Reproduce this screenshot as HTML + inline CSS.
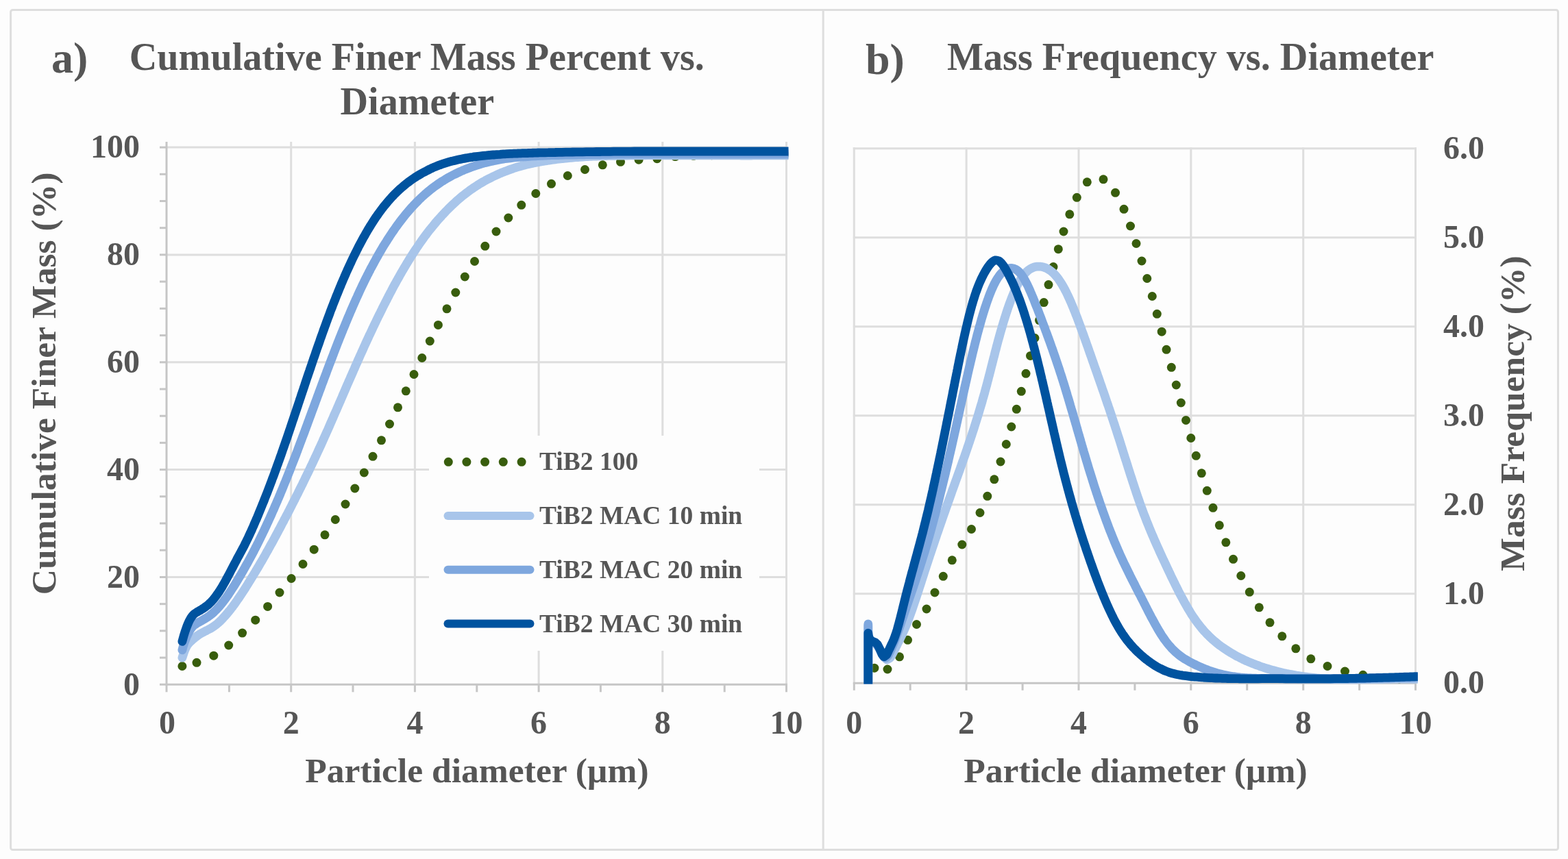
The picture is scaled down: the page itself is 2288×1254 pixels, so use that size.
<!DOCTYPE html>
<html lang="en">
<head>
<meta charset="utf-8">
<title>Particle size distributions of TiB2 powders</title>
<style>
html,body{margin:0;padding:0;background:#fdfdfd;}
body{width:2288px;height:1254px;overflow:hidden;}
svg{display:block;font-family:"Liberation Serif","Times New Roman",Times,serif;font-weight:bold;fill:#565656;}
.grid line{stroke:#dedede;stroke-width:3;}
.axis line{stroke:#c6c6c6;stroke-width:3;}
.frame{fill:none;stroke:#dedede;stroke-width:3;}
.curve{fill:none;stroke-width:12.8;stroke-linecap:round;stroke-linejoin:round;}
.dots circle{fill:#385d0a;}
.tick{font-size:48px;}
.atitle{font-size:51.6px;}
.title{font-size:56.2px;}
.tag{font-size:64px;}
.leg{font-size:37.5px;}
</style>
</head>
<body>
<svg xmlns="http://www.w3.org/2000/svg" width="2288" height="1254" viewBox="0 0 2288 1254" role="img" aria-label="Particle size distribution charts">
<defs>
<filter id="soft" x="-2%" y="-2%" width="104%" height="104%"><feGaussianBlur stdDeviation="0.6"/></filter>
<clipPath id="clipA"><rect x="236" y="200" width="914.5" height="806"/></clipPath>
<clipPath id="clipB"><rect x="1240" y="210" width="828.8" height="788.5"/></clipPath>
</defs>
<rect width="2288" height="1254" fill="#fdfdfd"/>
<g filter="url(#soft)">

<rect class="frame" x="15.6" y="14.4" width="2257.9" height="1226.2" rx="3"/>
<line x1="1201.2" y1="14.4" x2="1201.2" y2="1240.6" stroke="#dedede" stroke-width="3"/>
<g id="chart-a">
<g class="grid">
<line x1="424.7" y1="207" x2="424.7" y2="999.3"/>
<line x1="605.4" y1="207" x2="605.4" y2="999.3"/>
<line x1="786.1" y1="207" x2="786.1" y2="999.3"/>
<line x1="966.8" y1="207" x2="966.8" y2="999.3"/>
<line x1="1147.5" y1="207" x2="1147.5" y2="999.3"/>
<line x1="243" y1="842.5" x2="1149" y2="842.5"/>
<line x1="243" y1="685.6" x2="1149" y2="685.6"/>
<line x1="243" y1="528.8" x2="1149" y2="528.8"/>
<line x1="243" y1="371.9" x2="1149" y2="371.9"/>
<line x1="243" y1="215.1" x2="1149" y2="215.1"/>
</g>
<g class="axis">
<line x1="243" y1="207" x2="243" y2="1000.8"/>
<line x1="233" y1="999.3" x2="1149" y2="999.3"/>
<line x1="243" y1="999.3" x2="243" y2="1010.3"/>
<line x1="334.4" y1="999.3" x2="334.4" y2="1010.3"/>
<line x1="424.7" y1="999.3" x2="424.7" y2="1010.3"/>
<line x1="515" y1="999.3" x2="515" y2="1010.3"/>
<line x1="605.4" y1="999.3" x2="605.4" y2="1010.3"/>
<line x1="695.8" y1="999.3" x2="695.8" y2="1010.3"/>
<line x1="786.1" y1="999.3" x2="786.1" y2="1010.3"/>
<line x1="876.4" y1="999.3" x2="876.4" y2="1010.3"/>
<line x1="966.8" y1="999.3" x2="966.8" y2="1010.3"/>
<line x1="1057.2" y1="999.3" x2="1057.2" y2="1010.3"/>
<line x1="1147.5" y1="999.3" x2="1147.5" y2="1010.3"/>
<line x1="233" y1="960.1" x2="243" y2="960.1"/>
<line x1="233" y1="920.9" x2="243" y2="920.9"/>
<line x1="233" y1="881.7" x2="243" y2="881.7"/>
<line x1="233" y1="842.5" x2="243" y2="842.5"/>
<line x1="233" y1="803.2" x2="243" y2="803.2"/>
<line x1="233" y1="764" x2="243" y2="764"/>
<line x1="233" y1="724.8" x2="243" y2="724.8"/>
<line x1="233" y1="685.6" x2="243" y2="685.6"/>
<line x1="233" y1="646.4" x2="243" y2="646.4"/>
<line x1="233" y1="607.2" x2="243" y2="607.2"/>
<line x1="233" y1="568" x2="243" y2="568"/>
<line x1="233" y1="528.8" x2="243" y2="528.8"/>
<line x1="233" y1="489.6" x2="243" y2="489.6"/>
<line x1="233" y1="450.4" x2="243" y2="450.4"/>
<line x1="233" y1="411.1" x2="243" y2="411.1"/>
<line x1="233" y1="371.9" x2="243" y2="371.9"/>
<line x1="233" y1="332.7" x2="243" y2="332.7"/>
<line x1="233" y1="293.5" x2="243" y2="293.5"/>
<line x1="233" y1="254.3" x2="243" y2="254.3"/>
<line x1="233" y1="215.1" x2="243" y2="215.1"/>
</g>
<rect x="626" y="636" width="482" height="314" fill="#fdfdfd"/>
<g clip-path="url(#clipA)">
<g class="dots"><circle cx="265.9" cy="972.5" r="6.5"/><circle cx="287" cy="967.3" r="6.5"/><circle cx="311.8" cy="957.2" r="6.5"/><circle cx="333.7" cy="942" r="6.5"/><circle cx="353.6" cy="924.1" r="6.5"/><circle cx="372.7" cy="905.2" r="6.5"/><circle cx="390.6" cy="885.4" r="6.5"/><circle cx="408" cy="865" r="6.5"/><circle cx="425.1" cy="844.5" r="6.5"/><circle cx="442" cy="823.5" r="6.5"/><circle cx="458.2" cy="802.2" r="6.5"/><circle cx="474" cy="780.8" r="6.5"/><circle cx="489.3" cy="758.5" r="6.5"/><circle cx="504" cy="736" r="6.5"/><circle cx="517.8" cy="713" r="6.5"/><circle cx="531.3" cy="690" r="6.5"/><circle cx="544" cy="666.3" r="6.5"/><circle cx="556.5" cy="642.8" r="6.5"/><circle cx="568.5" cy="619" r="6.5"/><circle cx="580.5" cy="594.8" r="6.5"/><circle cx="592.3" cy="570.8" r="6.5"/><circle cx="604" cy="546.5" r="6.5"/><circle cx="615.8" cy="522.5" r="6.5"/><circle cx="627.3" cy="498" r="6.5"/><circle cx="639.4" cy="474.4" r="6.5"/><circle cx="652" cy="450.8" r="6.5"/><circle cx="664.8" cy="427" r="6.5"/><circle cx="678.3" cy="404" r="6.5"/><circle cx="692.5" cy="381.5" r="6.5"/><circle cx="707.8" cy="359.3" r="6.5"/><circle cx="724" cy="338" r="6.5"/><circle cx="741.8" cy="318" r="6.5"/><circle cx="760.8" cy="299.3" r="6.5"/><circle cx="781.8" cy="282.5" r="6.5"/><circle cx="804.5" cy="268.3" r="6.5"/><circle cx="828.3" cy="256.5" r="6.5"/><circle cx="853.5" cy="247.5" r="6.5"/><circle cx="879.3" cy="240.8" r="6.5"/><circle cx="905.5" cy="236.3" r="6.5"/><circle cx="932.1" cy="233.2" r="6.5"/><circle cx="958.8" cy="231.7" r="6.5"/><circle cx="985.3" cy="228.6" r="6.5"/><circle cx="1012" cy="227.3" r="6.5"/><circle cx="1038.6" cy="226.7" r="6.5"/><circle cx="1065.2" cy="226.3" r="6.5"/><circle cx="1091.8" cy="226" r="6.5"/><circle cx="1118.4" cy="225.8" r="6.5"/><circle cx="1145" cy="225.6" r="6.5"/></g>
<path class="curve" stroke="#a8c5ea" d="M265.9,960.2C266.2,959.4 266.9,957 267.5,955.4C268,953.8 268.5,952.2 269.1,950.7C269.7,949.1 270.3,947.5 271.1,946C271.8,944.5 272.6,943 273.5,941.7C274.5,940.3 275.6,939 276.7,937.8C277.9,936.6 279.1,935.4 280.4,934.3C281.6,933.2 282.9,932.1 284.2,931C285.5,930 286.8,928.9 288.2,928C289.6,927 291,926.1 292.4,925.2C293.8,924.4 295.3,923.6 296.8,922.8C298.3,922 299.8,921.3 301.3,920.5C302.8,919.7 304.3,919 305.8,918.2C307.2,917.4 308.7,916.6 310.1,915.7C311.5,914.8 312.9,913.8 314.2,912.8C315.6,911.8 316.9,910.7 318.1,909.6C319.4,908.5 320.6,907.3 321.8,906.2C323,905 324.2,903.8 325.3,902.6C326.5,901.4 327.6,900.1 328.7,898.9C329.8,897.6 330.9,896.3 332,895C333.1,893.8 334.1,892.5 335.2,891.1C336.2,889.8 337.3,888.5 338.3,887.2C339.3,885.9 340.3,884.5 341.3,883.2C342.3,881.8 343.2,880.4 344.2,879.1C345.2,877.7 346.1,876.3 347.1,874.9C348,873.6 349,872.2 349.9,870.8C350.9,869.4 351.8,868 352.7,866.6C353.6,865.2 354.6,863.8 355.5,862.4C356.4,861 357.3,859.6 358.2,858.2C359.1,856.7 360,855.3 360.9,853.9C361.8,852.5 362.7,851.1 363.5,849.6C364.4,848.2 365.3,846.8 366.2,845.3C367,843.9 367.9,842.5 368.8,841C369.7,839.6 370.5,838.2 371.4,836.7C372.3,835.3 373.1,833.9 374,832.4C374.9,831 375.7,829.6 376.6,828.1C377.4,826.7 378.3,825.2 379.1,823.8C380,822.3 380.8,820.9 381.7,819.4C382.5,818 383.3,816.5 384.2,815.1C385,813.6 385.8,812.2 386.7,810.7C387.5,809.2 388.3,807.8 389.1,806.3C389.9,804.9 390.8,803.4 391.6,801.9C392.4,800.5 393.2,799 394,797.5C394.8,796.1 395.6,794.6 396.5,793.1C397.3,791.7 398.1,790.2 398.9,788.7C399.7,787.2 400.5,785.8 401.3,784.3C402.1,782.8 402.9,781.3 403.6,779.9C404.4,778.4 405.2,776.9 406,775.4C406.8,773.9 407.6,772.5 408.4,771C409.2,769.5 410,768 410.7,766.5C411.5,765.1 412.3,763.6 413.1,762.1C413.9,760.6 414.6,759.1 415.4,757.6C416.2,756.1 417,754.7 417.7,753.2C418.5,751.7 419.3,750.2 420.1,748.7C420.8,747.2 421.6,745.7 422.4,744.2C423.1,742.7 423.9,741.2 424.7,739.7C425.4,738.3 426.2,736.8 426.9,735.3C427.7,733.8 428.5,732.3 429.2,730.8C430,729.3 430.7,727.8 431.5,726.3C432.2,724.8 433,723.3 433.8,721.8C434.5,720.3 435.3,718.8 436,717.3C436.8,715.8 437.5,714.3 438.2,712.8C439,711.3 439.7,709.8 440.5,708.3C441.2,706.8 442,705.3 442.7,703.8C443.4,702.3 444.2,700.8 444.9,699.2C445.6,697.7 446.4,696.2 447.1,694.7C447.8,693.2 448.6,691.7 449.3,690.2C450,688.7 450.7,687.2 451.5,685.7C452.2,684.1 452.9,682.6 453.6,681.1C454.4,679.6 455.1,678.1 455.8,676.6C456.5,675.1 457.2,673.5 457.9,672C458.6,670.5 459.4,669 460.1,667.5C460.8,665.9 461.5,664.4 462.2,662.9C462.9,661.4 463.6,659.9 464.3,658.3C465,656.8 465.7,655.3 466.4,653.8C467.1,652.2 467.8,650.7 468.5,649.2C469.2,647.7 469.9,646.1 470.6,644.6C471.2,643.1 471.9,641.5 472.6,640C473.3,638.5 474,636.9 474.7,635.4C475.4,633.9 476,632.4 476.7,630.8C477.4,629.3 478.1,627.8 478.8,626.2C479.4,624.7 480.1,623.2 480.8,621.6C481.5,620.1 482.1,618.5 482.8,617C483.5,615.5 484.2,613.9 484.8,612.4C485.5,610.9 486.2,609.3 486.8,607.8C487.5,606.3 488.2,604.7 488.8,603.2C489.5,601.6 490.2,600.1 490.9,598.6C491.5,597 492.2,595.5 492.9,593.9C493.5,592.4 494.2,590.9 494.9,589.3C495.5,587.8 496.2,586.3 496.9,584.7C497.5,583.2 498.2,581.6 498.9,580.1C499.5,578.6 500.2,577 500.8,575.5C501.5,573.9 502.2,572.4 502.8,570.9C503.5,569.3 504.2,567.8 504.8,566.2C505.5,564.7 506.2,563.2 506.8,561.6C507.5,560.1 508.2,558.6 508.8,557C509.5,555.5 510.2,553.9 510.9,552.4C511.5,550.9 512.2,549.3 512.9,547.8C513.5,546.3 514.2,544.7 514.9,543.2C515.6,541.6 516.2,540.1 516.9,538.6C517.6,537 518.2,535.5 518.9,534C519.6,532.4 520.3,530.9 521,529.4C521.6,527.8 522.3,526.3 523,524.8C523.7,523.2 524.4,521.7 525,520.2C525.7,518.6 526.4,517.1 527.1,515.6C527.8,514 528.5,512.5 529.2,511C529.9,509.5 530.6,507.9 531.2,506.4C531.9,504.9 532.6,503.4 533.3,501.8C534,500.3 534.7,498.8 535.4,497.3C536.1,495.7 536.8,494.2 537.5,492.7C538.2,491.2 538.9,489.6 539.7,488.1C540.4,486.6 541.1,485.1 541.8,483.6C542.5,482.1 543.2,480.5 543.9,479C544.6,477.5 545.4,476 546.1,474.5C546.8,473 547.5,471.4 548.3,469.9C549,468.4 549.7,466.9 550.4,465.4C551.2,463.9 551.9,462.4 552.6,460.9C553.4,459.4 554.1,457.9 554.9,456.4C555.6,454.9 556.3,453.4 557.1,451.9C557.8,450.4 558.6,448.9 559.3,447.4C560.1,445.9 560.9,444.4 561.6,442.9C562.4,441.4 563.1,439.9 563.9,438.4C564.7,436.9 565.4,435.4 566.2,433.9C567,432.4 567.7,430.9 568.5,429.4C569.3,428 570.1,426.5 570.9,425C571.6,423.5 572.4,422 573.2,420.5C574,419.1 574.8,417.6 575.6,416.1C576.4,414.6 577.2,413.2 578,411.7C578.8,410.2 579.6,408.8 580.5,407.3C581.3,405.8 582.1,404.4 582.9,402.9C583.7,401.5 584.6,400 585.4,398.5C586.2,397.1 587.1,395.6 587.9,394.2C588.8,392.7 589.6,391.3 590.5,389.9C591.3,388.4 592.2,387 593.1,385.5C593.9,384.1 594.8,382.7 595.7,381.2C596.5,379.8 597.4,378.4 598.3,377C599.2,375.5 600.1,374.1 601,372.7C601.9,371.3 602.8,369.9 603.7,368.5C604.6,367.1 605.6,365.7 606.5,364.3C607.4,362.9 608.3,361.5 609.3,360.1C610.2,358.7 611.2,357.3 612.1,355.9C613.1,354.5 614,353.2 615,351.8C616,350.4 616.9,349.1 617.9,347.7C618.9,346.3 619.9,345 620.9,343.7C621.9,342.3 622.9,341 623.9,339.6C625,338.3 626,337 627,335.7C628.1,334.4 629.1,333.1 630.2,331.8C631.2,330.4 632.3,329.2 633.4,327.9C634.4,326.6 635.5,325.3 636.6,324C637.7,322.7 638.8,321.5 639.9,320.2C641,319 642.1,317.7 643.3,316.5C644.4,315.2 645.5,314 646.7,312.8C647.8,311.5 649,310.3 650.1,309.1C651.3,307.9 652.5,306.7 653.6,305.5C654.8,304.3 656,303.1 657.2,302C658.4,300.8 659.6,299.6 660.8,298.5C662.1,297.3 663.3,296.2 664.5,295.1C665.8,293.9 667,292.8 668.3,291.7C669.6,290.6 670.8,289.5 672.1,288.4C673.4,287.4 674.7,286.3 676,285.2C677.3,284.2 678.6,283.2 680,282.1C681.3,281.1 682.6,280.1 684,279.1C685.3,278.1 686.7,277.1 688.1,276.2C689.4,275.2 690.8,274.3 692.2,273.3C693.6,272.4 695,271.5 696.4,270.6C697.8,269.7 699.3,268.8 700.7,267.9C702.1,267.1 703.6,266.2 705,265.4C706.5,264.5 708,263.7 709.4,262.9C710.9,262.1 712.4,261.3 713.9,260.6C715.4,259.8 716.9,259.1 718.4,258.3C719.9,257.6 721.4,256.9 722.9,256.2C724.4,255.5 726,254.8 727.5,254.1C729,253.4 730.6,252.8 732.1,252.1C733.7,251.5 735.2,250.9 736.8,250.3C738.4,249.7 739.9,249.1 741.5,248.5C743.1,247.9 744.7,247.4 746.3,246.8C747.8,246.3 749.4,245.7 751,245.2C752.6,244.7 754.2,244.2 755.8,243.7C757.4,243.2 759.1,242.8 760.7,242.3C762.3,241.9 763.9,241.4 765.5,241C767.1,240.6 768.8,240.2 770.4,239.8C772,239.4 773.7,239 775.3,238.7C776.9,238.3 778.6,238 780.2,237.6C781.9,237.3 783.5,237 785.2,236.7C786.8,236.3 788.5,236 790.1,235.8C791.8,235.5 793.4,235.2 795.1,234.9C796.7,234.7 798.4,234.4 800,234.2C801.7,233.9 803.4,233.7 805,233.4C806.7,233.2 808.4,233 810,232.8C811.7,232.6 813.3,232.4 815,232.2C816.7,232 818.3,231.8 820,231.6C821.7,231.4 823.3,231.2 825,231.1C826.7,230.9 828.3,230.7 830,230.6C831.7,230.4 833.4,230.3 835,230.1C836.7,230 838.4,229.8 840,229.7C841.7,229.6 843.4,229.5 845.1,229.3C846.7,229.2 848.4,229.1 850.1,229C851.8,228.9 853.4,228.8 855.1,228.7C856.8,228.6 858.4,228.5 860.1,228.4C861.8,228.3 863.5,228.3 865.1,228.2C866.8,228.1 868.5,228.1 870.2,228C871.9,227.9 873.5,227.9 875.2,227.8C876.9,227.8 878.6,227.7 880.2,227.7C881.9,227.6 883.6,227.6 885.3,227.5C886.9,227.5 888.6,227.4 890.3,227.4C892,227.4 893.6,227.3 895.3,227.3C897,227.3 898.7,227.2 900.4,227.2C902,227.2 903.7,227.1 905.4,227.1C907.1,227.1 908.7,227 910.4,227C912.1,227 913.8,227 915.4,227C917.1,226.9 918.8,226.9 920.5,226.9C922.2,226.9 923.8,226.9 925.5,226.8C927.2,226.8 928.9,226.8 930.5,226.8C932.2,226.8 933.9,226.8 935.6,226.8C937.2,226.8 938.9,226.8 940.6,226.8C942.3,226.8 944,226.8 945.6,226.7C947.3,226.7 949,226.7 950.7,226.7C952.3,226.7 954,226.7 955.7,226.7C957.4,226.7 959,226.7 960.7,226.7C962.4,226.7 964.1,226.7 965.8,226.7C967.4,226.7 969.1,226.7 970.8,226.8C972.5,226.8 974.1,226.8 975.8,226.8C977.5,226.8 979.2,226.8 980.8,226.8C982.5,226.8 984.2,226.8 985.9,226.8C987.6,226.8 989.2,226.8 990.9,226.8C992.6,226.8 994.3,226.8 995.9,226.8C997.6,226.8 999.3,226.8 1001,226.8C1002.6,226.8 1004.3,226.8 1006,226.8C1007.7,226.8 1009.4,226.8 1011,226.8C1012.7,226.8 1014.4,226.8 1016.1,226.8C1017.7,226.8 1019.4,226.8 1021.1,226.8C1022.8,226.8 1024.4,226.8 1026.1,226.8C1027.8,226.9 1029.5,226.9 1031.2,226.9C1032.8,226.9 1034.5,226.9 1036.2,226.9C1037.9,226.9 1039.5,226.9 1041.2,226.9C1042.9,226.9 1044.6,226.9 1046.2,226.9C1047.9,226.9 1049.6,226.9 1051.3,226.9C1053,226.9 1054.6,226.9 1056.3,226.9C1058,226.9 1059.7,226.9 1061.3,226.9C1063,226.9 1064.7,226.9 1066.4,226.9C1068,226.9 1069.7,226.9 1071.4,226.9C1073.1,226.9 1074.8,226.9 1076.4,226.9C1078.1,226.9 1079.8,227 1081.5,227C1083.1,227 1084.8,227 1086.5,227C1088.2,227 1089.9,227 1091.5,227C1093.2,227 1094.9,227 1096.6,227C1098.2,227 1099.9,226.9 1101.6,226.9C1103.3,226.9 1104.9,226.9 1106.6,226.9C1108.3,226.9 1110,226.9 1111.7,226.9C1113.3,226.9 1115,226.9 1116.7,226.9C1118.4,226.9 1120,226.9 1121.7,226.9C1123.4,226.9 1125.1,226.9 1126.7,226.9C1128.4,226.9 1130.1,226.9 1131.8,226.9C1133.5,226.9 1135.1,226.9 1136.8,226.9C1138.5,226.9 1140.2,226.9 1141.8,226.8C1143.5,226.8 1145.2,226.8 1146.9,226.8C1148.5,226.8 1151.1,226.8 1151.9,226.8"/>
<path class="curve" stroke="#7ea7de" d="M265.9,948.9C266.1,948.1 266.7,945.7 267.2,944C267.7,942.4 268.2,940.8 268.7,939.2C269.2,937.6 269.8,936.1 270.4,934.5C271,932.9 271.7,931.4 272.3,929.8C273,928.3 273.7,926.8 274.4,925.3C275.1,923.7 275.9,922.2 276.7,920.8C277.6,919.4 278.5,917.9 279.5,916.6C280.6,915.3 281.7,914 282.9,912.9C284.2,911.8 285.6,910.9 287,910C288.4,909.1 290,908.4 291.4,907.6C292.9,906.8 294.4,906 295.8,905.1C297.3,904.3 298.7,903.5 300.2,902.6C301.6,901.7 303,900.7 304.4,899.8C305.7,898.8 307.1,897.8 308.4,896.8C309.7,895.7 311,894.6 312.2,893.5C313.4,892.3 314.6,891.2 315.8,890C317,888.8 318.1,887.5 319.2,886.3C320.3,885 321.4,883.7 322.5,882.4C323.5,881.1 324.6,879.8 325.6,878.5C326.6,877.2 327.6,875.8 328.6,874.5C329.6,873.1 330.6,871.8 331.6,870.4C332.5,869 333.5,867.6 334.4,866.2C335.4,864.9 336.3,863.5 337.2,862C338.1,860.6 339,859.2 339.9,857.8C340.8,856.4 341.7,855 342.6,853.6C343.5,852.1 344.4,850.7 345.2,849.3C346.1,847.8 347,846.4 347.8,844.9C348.7,843.5 349.5,842.1 350.4,840.6C351.2,839.2 352.1,837.7 352.9,836.3C353.8,834.8 354.6,833.4 355.4,831.9C356.3,830.4 357.1,829 357.9,827.5C358.7,826.1 359.5,824.6 360.4,823.1C361.2,821.7 362,820.2 362.8,818.7C363.6,817.2 364.4,815.8 365.2,814.3C366,812.8 366.8,811.3 367.6,809.9C368.3,808.4 369.1,806.9 369.9,805.4C370.7,803.9 371.4,802.4 372.2,800.9C373,799.4 373.7,797.9 374.5,796.4C375.3,794.9 376,793.4 376.8,791.9C377.5,790.4 378.3,788.9 379,787.4C379.7,785.9 380.5,784.4 381.2,782.9C381.9,781.4 382.7,779.9 383.4,778.4C384.1,776.9 384.8,775.4 385.6,773.8C386.3,772.3 387,770.8 387.7,769.3C388.4,767.8 389.1,766.2 389.8,764.7C390.5,763.2 391.2,761.7 391.9,760.1C392.6,758.6 393.3,757.1 394,755.6C394.7,754 395.4,752.5 396.1,751C396.8,749.4 397.4,747.9 398.1,746.4C398.8,744.8 399.5,743.3 400.1,741.8C400.8,740.2 401.5,738.7 402.1,737.1C402.8,735.6 403.5,734.1 404.1,732.5C404.8,731 405.4,729.4 406.1,727.9C406.8,726.3 407.4,724.8 408.1,723.3C408.7,721.7 409.4,720.2 410,718.6C410.6,717.1 411.3,715.5 411.9,714C412.6,712.4 413.2,710.9 413.8,709.3C414.5,707.7 415.1,706.2 415.7,704.6C416.4,703.1 417,701.5 417.6,700C418.2,698.4 418.9,696.9 419.5,695.3C420.1,693.7 420.7,692.2 421.3,690.6C422,689.1 422.6,687.5 423.2,685.9C423.8,684.4 424.4,682.8 425,681.3C425.6,679.7 426.2,678.1 426.8,676.6C427.4,675 428.1,673.4 428.7,671.9C429.3,670.3 429.9,668.7 430.5,667.2C431.1,665.6 431.7,664 432.3,662.5C432.9,660.9 433.5,659.3 434.1,657.8C434.6,656.2 435.2,654.6 435.8,653.1C436.4,651.5 437,649.9 437.6,648.3C438.2,646.8 438.8,645.2 439.4,643.6C440,642.1 440.6,640.5 441.1,638.9C441.7,637.4 442.3,635.8 442.9,634.2C443.5,632.6 444.1,631.1 444.7,629.5C445.2,627.9 445.8,626.3 446.4,624.8C447,623.2 447.6,621.6 448.2,620.1C448.7,618.5 449.3,616.9 449.9,615.3C450.5,613.8 451.1,612.2 451.6,610.6C452.2,609 452.8,607.5 453.4,605.9C454,604.3 454.5,602.7 455.1,601.2C455.7,599.6 456.3,598 456.9,596.4C457.4,594.9 458,593.3 458.6,591.7C459.2,590.1 459.7,588.6 460.3,587C460.9,585.4 461.5,583.8 462.1,582.3C462.6,580.7 463.2,579.1 463.8,577.5C464.4,576 465,574.4 465.5,572.8C466.1,571.2 466.7,569.7 467.3,568.1C467.9,566.5 468.5,564.9 469,563.4C469.6,561.8 470.2,560.2 470.8,558.7C471.4,557.1 471.9,555.5 472.5,553.9C473.1,552.4 473.7,550.8 474.3,549.2C474.9,547.6 475.5,546.1 476.1,544.5C476.6,542.9 477.2,541.4 477.8,539.8C478.4,538.2 479,536.7 479.6,535.1C480.2,533.5 480.8,531.9 481.4,530.4C482,528.8 482.6,527.2 483.2,525.7C483.8,524.1 484.4,522.5 485,521C485.6,519.4 486.2,517.8 486.8,516.3C487.4,514.7 488,513.1 488.6,511.6C489.2,510 489.8,508.4 490.4,506.9C491,505.3 491.6,503.8 492.2,502.2C492.8,500.6 493.5,499.1 494.1,497.5C494.7,496 495.3,494.4 495.9,492.8C496.6,491.3 497.2,489.7 497.8,488.2C498.4,486.6 499,485 499.7,483.5C500.3,481.9 500.9,480.4 501.6,478.8C502.2,477.3 502.8,475.7 503.5,474.2C504.1,472.6 504.7,471.1 505.4,469.5C506,468 506.7,466.4 507.3,464.9C508,463.3 508.6,461.8 509.3,460.2C509.9,458.7 510.6,457.1 511.2,455.6C511.9,454.1 512.6,452.5 513.2,451C513.9,449.4 514.6,447.9 515.2,446.4C515.9,444.8 516.6,443.3 517.3,441.7C517.9,440.2 518.6,438.7 519.3,437.1C520,435.6 520.7,434.1 521.4,432.6C522.1,431 522.8,429.5 523.5,428C524.2,426.5 524.9,424.9 525.6,423.4C526.3,421.9 527,420.4 527.7,418.9C528.5,417.3 529.2,415.8 529.9,414.3C530.6,412.8 531.4,411.3 532.1,409.8C532.9,408.3 533.6,406.8 534.3,405.3C535.1,403.8 535.8,402.3 536.6,400.8C537.4,399.3 538.1,397.8 538.9,396.3C539.7,394.8 540.4,393.3 541.2,391.8C542,390.4 542.8,388.9 543.6,387.4C544.4,385.9 545.2,384.4 546,383C546.8,381.5 547.6,380 548.4,378.6C549.2,377.1 550,375.6 550.9,374.2C551.7,372.7 552.5,371.3 553.4,369.8C554.2,368.4 555,366.9 555.9,365.5C556.8,364 557.6,362.6 558.5,361.1C559.3,359.7 560.2,358.3 561.1,356.8C562,355.4 562.9,354 563.8,352.6C564.7,351.1 565.6,349.7 566.5,348.3C567.4,346.9 568.3,345.5 569.2,344.1C570.1,342.7 571.1,341.3 572,339.9C572.9,338.5 573.9,337.1 574.8,335.8C575.8,334.4 576.8,333 577.7,331.6C578.7,330.3 579.7,328.9 580.7,327.6C581.7,326.2 582.7,324.9 583.7,323.5C584.7,322.2 585.7,320.9 586.8,319.5C587.8,318.2 588.8,316.9 589.9,315.6C590.9,314.3 592,313 593.1,311.7C594.1,310.4 595.2,309.1 596.3,307.8C597.4,306.6 598.5,305.3 599.6,304.1C600.7,302.8 601.9,301.6 603,300.3C604.2,299.1 605.3,297.9 606.5,296.7C607.6,295.5 608.8,294.3 610,293.1C611.2,291.9 612.4,290.7 613.6,289.6C614.8,288.4 616,287.3 617.3,286.1C618.5,285 619.8,283.9 621,282.8C622.3,281.7 623.6,280.6 624.9,279.5C626.2,278.5 627.5,277.4 628.8,276.4C630.1,275.3 631.4,274.3 632.8,273.3C634.1,272.3 635.5,271.3 636.9,270.4C638.2,269.4 639.6,268.4 641,267.5C642.4,266.6 643.8,265.6 645.2,264.7C646.6,263.8 648.1,263 649.5,262.1C650.9,261.2 652.4,260.4 653.8,259.5C655.3,258.7 656.8,257.9 658.2,257.1C659.7,256.3 661.2,255.5 662.7,254.8C664.2,254 665.7,253.3 667.2,252.6C668.7,251.8 670.3,251.1 671.8,250.4C673.3,249.7 674.9,249.1 676.4,248.4C677.9,247.8 679.5,247.1 681.1,246.5C682.6,245.9 684.2,245.3 685.8,244.7C687.3,244.1 688.9,243.6 690.5,243C692.1,242.5 693.7,241.9 695.3,241.4C696.9,240.9 698.5,240.4 700.1,239.9C701.7,239.4 703.3,239 704.9,238.5C706.5,238.1 708.1,237.6 709.8,237.2C711.4,236.8 713,236.4 714.6,236C716.3,235.6 717.9,235.3 719.6,234.9C721.2,234.6 722.8,234.2 724.5,233.9C726.1,233.6 727.8,233.3 729.4,233C731.1,232.7 732.8,232.4 734.4,232.2C736.1,231.9 737.7,231.7 739.4,231.5C741.1,231.2 742.7,231 744.4,230.8C746,230.6 747.7,230.4 749.4,230.2C751,230.1 752.7,229.9 754.4,229.7C756.1,229.6 757.7,229.4 759.4,229.3C761.1,229.1 762.7,229 764.4,228.9C766.1,228.7 767.8,228.6 769.4,228.5C771.1,228.4 772.8,228.3 774.5,228.1C776.1,228 777.8,227.9 779.5,227.8C781.2,227.8 782.8,227.7 784.5,227.6C786.2,227.5 787.9,227.4 789.5,227.3C791.2,227.3 792.9,227.2 794.6,227.1C796.2,227 797.9,227 799.6,226.9C801.3,226.9 802.9,226.8 804.6,226.7C806.3,226.7 808,226.6 809.7,226.6C811.3,226.5 813,226.5 814.7,226.5C816.4,226.4 818,226.4 819.7,226.3C821.4,226.3 823.1,226.3 824.8,226.2C826.4,226.2 828.1,226.2 829.8,226.1C831.5,226.1 833.1,226.1 834.8,226C836.5,226 838.2,226 839.8,226C841.5,225.9 843.2,225.9 844.9,225.9C846.6,225.9 848.2,225.8 849.9,225.8C851.6,225.8 853.3,225.7 854.9,225.7C856.6,225.7 858.3,225.7 860,225.7C861.7,225.6 863.3,225.6 865,225.6C866.7,225.6 868.4,225.5 870,225.5C871.7,225.5 873.4,225.5 875.1,225.5C876.8,225.4 878.4,225.4 880.1,225.4C881.8,225.4 883.5,225.4 885.1,225.3C886.8,225.3 888.5,225.3 890.2,225.3C891.9,225.3 893.5,225.3 895.2,225.2C896.9,225.2 898.6,225.2 900.2,225.2C901.9,225.2 903.6,225.2 905.3,225.2C907,225.1 908.6,225.1 910.3,225.1C912,225.1 913.7,225.1 915.3,225.1C917,225.1 918.7,225.1 920.4,225.1C922.1,225.1 923.7,225 925.4,225C927.1,225 928.8,225 930.4,225C932.1,225 933.8,225 935.5,225C937.2,225 938.8,225 940.5,225C942.2,225 943.9,225 945.5,225C947.2,225 948.9,225 950.6,225C952.2,225 953.9,225 955.6,225C957.3,225 959,225 960.6,225C962.3,225 964,225 965.7,225C967.3,225 969,225 970.7,225C972.4,225 974.1,225 975.7,225C977.4,225 979.1,225 980.8,225C982.4,225 984.1,225 985.8,225C987.5,225 989.2,225 990.8,225C992.5,225 994.2,225 995.9,225C997.5,225 999.2,225 1000.9,225C1002.6,225 1004.3,225 1005.9,225C1007.6,225 1009.3,225 1011,225C1012.6,225 1014.3,225 1016,225C1017.7,225 1019.4,225 1021,225C1022.7,225 1024.4,225 1026.1,225C1027.7,225 1029.4,225 1031.1,225C1032.8,225 1034.5,225 1036.1,225C1037.8,225 1039.5,225 1041.2,225C1042.8,225 1044.5,225 1046.2,225C1047.9,225 1049.6,225 1051.2,225C1052.9,225 1054.6,225 1056.3,225C1057.9,225 1059.6,225 1061.3,225C1063,225 1064.7,225 1066.3,225C1068,225 1069.7,225 1071.4,225C1073,225 1074.7,225 1076.4,225C1078.1,225 1079.8,225 1081.4,225C1083.1,225 1084.8,225 1086.5,225C1088.1,225 1089.8,225 1091.5,225C1093.2,225 1094.9,225 1096.5,225C1098.2,225 1099.9,225 1101.6,225C1103.2,225 1104.9,225 1106.6,225C1108.3,225 1110,225 1111.6,225C1113.3,225 1115,225 1116.7,225C1118.3,225 1120,225 1121.7,225C1123.4,225 1125.1,225 1126.7,225C1128.4,225 1130.1,225 1131.8,225C1133.4,225 1135.1,225 1136.8,225C1138.5,225 1140.2,225 1141.8,225C1143.5,225 1145.2,225 1146.9,225C1148.5,225 1151.1,225 1151.9,225"/>
<path class="curve" stroke="#06529f" d="M265.9,936.4C266.1,935.6 266.8,933.2 267.2,931.6C267.7,929.9 268.1,928.3 268.6,926.7C269.1,925.1 269.6,923.5 270.1,921.9C270.6,920.3 271.2,918.7 271.7,917.2C272.3,915.6 272.9,914 273.5,912.5C274.1,910.9 274.8,909.4 275.5,907.8C276.2,906.3 276.9,904.8 277.8,903.4C278.7,901.9 279.6,900.5 280.7,899.2C281.7,898 282.9,896.8 284.2,895.7C285.5,894.7 287,893.9 288.4,893C289.9,892.1 291.4,891.4 292.8,890.5C294.2,889.6 295.7,888.8 297.1,887.8C298.5,886.9 299.8,885.9 301.1,884.9C302.5,883.9 303.8,882.8 305,881.7C306.2,880.5 307.4,879.4 308.6,878.2C309.8,876.9 310.9,875.7 311.9,874.4C313,873.1 314,871.8 315,870.4C316,869.1 317,867.7 317.9,866.3C318.9,865 319.8,863.6 320.7,862.1C321.6,860.7 322.5,859.3 323.4,857.9C324.2,856.4 325.1,855 325.9,853.5C326.7,852.1 327.6,850.6 328.4,849.2C329.2,847.7 330,846.2 330.8,844.8C331.6,843.3 332.4,841.8 333.2,840.3C334,838.8 334.7,837.4 335.5,835.9C336.3,834.4 337.1,832.9 337.8,831.4C338.6,829.9 339.4,828.4 340.2,827C340.9,825.5 341.7,824 342.5,822.5C343.3,821 344.1,819.5 344.9,818.1C345.6,816.6 346.4,815.1 347.2,813.6C348,812.2 348.8,810.7 349.6,809.2C350.4,807.7 351.2,806.3 352,804.8C352.8,803.3 353.6,801.8 354.4,800.3C355.1,798.9 355.9,797.4 356.7,795.9C357.4,794.4 358.2,792.9 358.9,791.4C359.7,789.9 360.4,788.4 361.1,786.9C361.9,785.4 362.6,783.8 363.3,782.3C364,780.8 364.7,779.3 365.4,777.8C366.1,776.2 366.8,774.7 367.5,773.2C368.1,771.6 368.8,770.1 369.5,768.6C370.2,767 370.8,765.5 371.5,764C372.2,762.4 372.8,760.9 373.5,759.4C374.1,757.8 374.8,756.3 375.5,754.7C376.1,753.2 376.8,751.6 377.4,750.1C378,748.5 378.7,747 379.3,745.4C380,743.9 380.6,742.4 381.2,740.8C381.9,739.2 382.5,737.7 383.1,736.1C383.7,734.6 384.4,733 385,731.5C385.6,729.9 386.2,728.4 386.8,726.8C387.5,725.2 388.1,723.7 388.7,722.1C389.3,720.6 389.9,719 390.5,717.4C391.1,715.9 391.7,714.3 392.3,712.7C392.9,711.2 393.5,709.6 394.1,708C394.7,706.5 395.3,704.9 395.9,703.3C396.5,701.8 397,700.2 397.6,698.6C398.2,697.1 398.8,695.5 399.4,693.9C400,692.3 400.5,690.8 401.1,689.2C401.7,687.6 402.3,686.1 402.8,684.5C403.4,682.9 404,681.3 404.5,679.7C405.1,678.2 405.7,676.6 406.2,675C406.8,673.4 407.4,671.9 407.9,670.3C408.5,668.7 409.1,667.1 409.6,665.5C410.2,664 410.7,662.4 411.3,660.8C411.8,659.2 412.4,657.6 412.9,656.1C413.5,654.5 414,652.9 414.6,651.3C415.1,649.7 415.7,648.1 416.2,646.6C416.8,645 417.3,643.4 417.9,641.8C418.4,640.2 419,638.6 419.5,637C420,635.5 420.6,633.9 421.1,632.3C421.7,630.7 422.2,629.1 422.7,627.5C423.3,625.9 423.8,624.3 424.3,622.8C424.9,621.2 425.4,619.6 425.9,618C426.5,616.4 427,614.8 427.5,613.2C428.1,611.6 428.6,610.1 429.1,608.5C429.7,606.9 430.2,605.3 430.7,603.7C431.3,602.1 431.8,600.5 432.3,598.9C432.9,597.3 433.4,595.7 433.9,594.2C434.4,592.6 435,591 435.5,589.4C436,587.8 436.6,586.2 437.1,584.6C437.6,583 438.2,581.4 438.7,579.8C439.2,578.3 439.7,576.7 440.3,575.1C440.8,573.5 441.3,571.9 441.9,570.3C442.4,568.7 442.9,567.1 443.5,565.5C444,564 444.5,562.4 445,560.8C445.6,559.2 446.1,557.6 446.6,556C447.2,554.4 447.7,552.8 448.2,551.2C448.8,549.7 449.3,548.1 449.8,546.5C450.4,544.9 450.9,543.3 451.5,541.7C452,540.1 452.5,538.5 453.1,537C453.6,535.4 454.1,533.8 454.7,532.2C455.2,530.6 455.8,529 456.3,527.4C456.8,525.8 457.4,524.3 457.9,522.7C458.5,521.1 459,519.5 459.6,517.9C460.1,516.3 460.7,514.8 461.2,513.2C461.7,511.6 462.3,510 462.8,508.4C463.4,506.8 463.9,505.3 464.5,503.7C465.1,502.1 465.6,500.5 466.2,498.9C466.7,497.3 467.3,495.8 467.8,494.2C468.4,492.6 468.9,491 469.5,489.4C470.1,487.9 470.6,486.3 471.2,484.7C471.7,483.1 472.3,481.5 472.9,480C473.4,478.4 474,476.8 474.6,475.2C475.2,473.7 475.7,472.1 476.3,470.5C476.9,468.9 477.5,467.4 478,465.8C478.6,464.2 479.2,462.7 479.8,461.1C480.4,459.5 481,457.9 481.5,456.4C482.1,454.8 482.7,453.2 483.3,451.7C483.9,450.1 484.5,448.5 485.1,447C485.7,445.4 486.3,443.8 486.9,442.3C487.5,440.7 488.1,439.2 488.8,437.6C489.4,436 490,434.5 490.6,432.9C491.2,431.4 491.9,429.8 492.5,428.3C493.1,426.7 493.7,425.2 494.4,423.6C495,422.1 495.6,420.5 496.3,419C496.9,417.4 497.6,415.9 498.2,414.3C498.9,412.8 499.5,411.2 500.2,409.7C500.8,408.2 501.5,406.6 502.2,405.1C502.8,403.5 503.5,402 504.2,400.5C504.9,398.9 505.5,397.4 506.2,395.9C506.9,394.3 507.6,392.8 508.3,391.3C509,389.8 509.7,388.2 510.4,386.7C511.1,385.2 511.8,383.7 512.5,382.2C513.2,380.6 513.9,379.1 514.6,377.6C515.4,376.1 516.1,374.6 516.8,373.1C517.6,371.6 518.3,370.1 519.1,368.6C519.8,367.1 520.6,365.6 521.3,364.1C522.1,362.6 522.8,361.1 523.6,359.6C524.4,358.1 525.2,356.6 525.9,355.2C526.7,353.7 527.5,352.2 528.3,350.7C529.1,349.3 529.9,347.8 530.7,346.3C531.6,344.9 532.4,343.4 533.2,341.9C534,340.5 534.9,339 535.7,337.6C536.6,336.1 537.4,334.7 538.3,333.3C539.2,331.8 540,330.4 540.9,329C541.8,327.6 542.7,326.1 543.6,324.7C544.5,323.3 545.4,321.9 546.3,320.5C547.3,319.1 548.2,317.7 549.1,316.3C550.1,315 551.1,313.6 552,312.2C553,310.9 554,309.5 555,308.1C556,306.8 557,305.5 558,304.1C559,302.8 560,301.5 561.1,300.2C562.1,298.9 563.2,297.6 564.3,296.3C565.3,295 566.4,293.7 567.5,292.5C568.6,291.2 569.8,289.9 570.9,288.7C572,287.5 573.2,286.3 574.3,285C575.5,283.8 576.7,282.6 577.9,281.5C579.1,280.3 580.3,279.1 581.5,278C582.7,276.8 583.9,275.7 585.2,274.6C586.5,273.5 587.7,272.4 589,271.3C590.3,270.2 591.6,269.2 592.9,268.1C594.2,267.1 595.6,266.1 596.9,265.1C598.2,264.1 599.6,263.1 601,262.1C602.3,261.2 603.7,260.2 605.1,259.3C606.5,258.4 608,257.5 609.4,256.6C610.8,255.8 612.3,254.9 613.7,254.1C615.2,253.2 616.6,252.4 618.1,251.6C619.6,250.8 621.1,250.1 622.6,249.3C624,248.5 625.5,247.8 627,247C628.6,246.3 630.1,245.6 631.6,244.9C633.1,244.3 634.7,243.6 636.2,243C637.8,242.3 639.3,241.7 640.9,241.1C642.5,240.5 644.1,240 645.6,239.4C647.2,238.9 648.8,238.4 650.4,237.9C652,237.4 653.6,236.9 655.2,236.4C656.8,235.9 658.5,235.5 660.1,235.1C661.7,234.7 663.3,234.3 665,233.9C666.6,233.5 668.2,233.1 669.9,232.8C671.5,232.4 673.2,232.1 674.8,231.8C676.4,231.5 678.1,231.2 679.7,230.9C681.4,230.6 683,230.3 684.7,230C686.4,229.8 688,229.5 689.7,229.3C691.3,229 693,228.8 694.6,228.6C696.3,228.4 698,228.2 699.6,228C701.3,227.8 703,227.6 704.6,227.4C706.3,227.2 708,227 709.6,226.9C711.3,226.7 713,226.6 714.6,226.4C716.3,226.3 718,226.1 719.6,226C721.3,225.9 723,225.7 724.7,225.6C726.3,225.5 728,225.4 729.7,225.3C731.3,225.1 733,225 734.7,224.9C736.4,224.9 738,224.8 739.7,224.7C741.4,224.6 743.1,224.5 744.7,224.4C746.4,224.3 748.1,224.3 749.8,224.2C751.4,224.1 753.1,224 754.8,224C756.5,223.9 758.1,223.9 759.8,223.8C761.5,223.7 763.2,223.7 764.8,223.6C766.5,223.6 768.2,223.5 769.9,223.5C771.5,223.4 773.2,223.4 774.9,223.3C776.6,223.3 778.2,223.2 779.9,223.2C781.6,223.1 783.3,223.1 784.9,223C786.6,223 788.3,222.9 790,222.9C791.6,222.9 793.3,222.8 795,222.8C796.7,222.7 798.3,222.7 800,222.7C801.7,222.6 803.4,222.6 805,222.6C806.7,222.5 808.4,222.5 810.1,222.5C811.7,222.4 813.4,222.4 815.1,222.4C816.8,222.3 818.4,222.3 820.1,222.3C821.8,222.2 823.5,222.2 825.1,222.2C826.8,222.2 828.5,222.1 830.2,222.1C831.8,222.1 833.5,222 835.2,222C836.9,222 838.5,222 840.2,221.9C841.9,221.9 843.6,221.9 845.2,221.9C846.9,221.8 848.6,221.8 850.3,221.8C851.9,221.8 853.6,221.8 855.3,221.7C857,221.7 858.6,221.7 860.3,221.7C862,221.6 863.7,221.6 865.3,221.6C867,221.6 868.7,221.6 870.4,221.5C872.1,221.5 873.7,221.5 875.4,221.5C877.1,221.5 878.8,221.4 880.4,221.4C882.1,221.4 883.8,221.4 885.5,221.4C887.1,221.3 888.8,221.3 890.5,221.3C892.2,221.3 893.8,221.3 895.5,221.2C897.2,221.2 898.9,221.2 900.5,221.2C902.2,221.2 903.9,221.2 905.6,221.2C907.2,221.1 908.9,221.1 910.6,221.1C912.3,221.1 913.9,221.1 915.6,221.1C917.3,221.1 919,221.1 920.6,221.1C922.3,221 924,221 925.7,221C927.3,221 929,221 930.7,221C932.4,221 934.1,221 935.7,221C937.4,221 939.1,221 940.8,221C942.4,221 944.1,221 945.8,221C947.5,221 949.1,221 950.8,221C952.5,221 954.2,221 955.8,221C957.5,221 959.2,221 960.9,221C962.5,221 964.2,221 965.9,221C967.6,221 969.2,221 970.9,221C972.6,221 974.3,221 975.9,221C977.6,221 979.3,221 981,221C982.6,221 984.3,221 986,221C987.7,221 989.4,221 991,221C992.7,221 994.4,221 996.1,221C997.7,221 999.4,221 1001.1,221C1002.8,221 1004.4,221 1006.1,221C1007.8,221 1009.5,221 1011.1,221C1012.8,221 1014.5,221 1016.2,221C1017.8,221 1019.5,221 1021.2,221C1022.9,221 1024.5,221 1026.2,221C1027.9,221 1029.6,221 1031.2,221C1032.9,221 1034.6,221 1036.3,221C1037.9,221 1039.6,221 1041.3,221C1043,221 1044.7,221 1046.3,221C1048,221 1049.7,221 1051.4,221C1053,221 1054.7,221 1056.4,221C1058.1,221 1059.7,221 1061.4,221C1063.1,221 1064.8,221 1066.4,221C1068.1,221 1069.8,221 1071.5,221C1073.1,221 1074.8,221 1076.5,221C1078.2,221 1079.8,221 1081.5,221C1083.2,221 1084.9,221 1086.5,221C1088.2,221 1089.9,221 1091.6,221C1093.2,221 1094.9,221 1096.6,221C1098.3,221 1100,221 1101.6,221C1103.3,221 1105,221 1106.7,221C1108.3,221 1110,221 1111.7,221C1113.4,221 1115,221 1116.7,221C1118.4,221 1120.1,221 1121.7,221C1123.4,221 1125.1,221 1126.8,221C1128.4,221 1130.1,221 1131.8,221C1133.5,221 1135.1,221 1136.8,221C1138.5,221 1140.2,221 1141.8,221C1143.5,221 1145.2,221 1146.9,221C1148.5,221 1151.1,221 1151.9,221"/>
</g>
<g id="legend">
<g class="dots"><circle cx="654.3" cy="674.3" r="6.5"/><circle cx="680.9" cy="674.3" r="6.5"/><circle cx="707.6" cy="674.3" r="6.5"/><circle cx="734.3" cy="674.3" r="6.5"/><circle cx="761.1" cy="674.3" r="6.5"/></g>
<line x1="653.5" y1="753" x2="773.5" y2="753" stroke="#a8c5ea" stroke-width="12" stroke-linecap="round"/>
<line x1="653.5" y1="831.8" x2="773.5" y2="831.8" stroke="#7ea7de" stroke-width="12" stroke-linecap="round"/>
<line x1="653.5" y1="910.6" x2="773.5" y2="910.6" stroke="#06529f" stroke-width="12" stroke-linecap="round"/>
<text class="leg" x="787" y="686.3">TiB2 100</text>
<text class="leg" x="787" y="765">TiB2 MAC 10 min</text>
<text class="leg" x="787" y="843.8">TiB2 MAC 20 min</text>
<text class="leg" x="787" y="922.6">TiB2 MAC 30 min</text>
</g>
<text class="tick" x="204" y="1014.6" text-anchor="end">0</text>
<text class="tick" x="204" y="857.8" text-anchor="end">20</text>
<text class="tick" x="204" y="700.9" text-anchor="end">40</text>
<text class="tick" x="204" y="544.1" text-anchor="end">60</text>
<text class="tick" x="204" y="387.2" text-anchor="end">80</text>
<text class="tick" x="204" y="230.4" text-anchor="end">100</text>
<text class="tick" x="244" y="1070.6" text-anchor="middle">0</text>
<text class="tick" x="424.7" y="1070.6" text-anchor="middle">2</text>
<text class="tick" x="605.4" y="1070.6" text-anchor="middle">4</text>
<text class="tick" x="786.1" y="1070.6" text-anchor="middle">6</text>
<text class="tick" x="966.8" y="1070.6" text-anchor="middle">8</text>
<text class="tick" x="1147.5" y="1070.6" text-anchor="middle">10</text>
<text class="atitle" x="696" y="1142" text-anchor="middle">Particle diameter (µm)</text>
<text class="atitle" transform="translate(81.3 559.8) rotate(-90)" text-anchor="middle">Cumulative Finer Mass (%)</text>
<text class="tag" x="75" y="106">a)</text>
<text class="title" x="608.3" y="102" text-anchor="middle">Cumulative Finer Mass Percent vs.</text>
<text class="title" x="608.8" y="167" text-anchor="middle">Diameter</text>
</g>
<g id="chart-b">
<g class="grid">
<line x1="1246.3" y1="215.3" x2="1246.3" y2="996.8"/>
<line x1="1410.1" y1="215.3" x2="1410.1" y2="996.8"/>
<line x1="1574" y1="215.3" x2="1574" y2="996.8"/>
<line x1="1737.8" y1="215.3" x2="1737.8" y2="996.8"/>
<line x1="1901.7" y1="215.3" x2="1901.7" y2="996.8"/>
<line x1="2065.5" y1="215.3" x2="2065.5" y2="996.8"/>
<line x1="1244.8" y1="866.8" x2="2067" y2="866.8"/>
<line x1="1244.8" y1="736.8" x2="2067" y2="736.8"/>
<line x1="1244.8" y1="606.8" x2="2067" y2="606.8"/>
<line x1="1244.8" y1="476.8" x2="2067" y2="476.8"/>
<line x1="1244.8" y1="346.8" x2="2067" y2="346.8"/>
<line x1="1244.8" y1="216.8" x2="2067" y2="216.8"/>
</g>
<g class="axis">
<line x1="1244.8" y1="997.3" x2="2067" y2="997.3"/>
<line x1="1246.3" y1="996.8" x2="1246.3" y2="1007.8"/>
<line x1="1328.2" y1="996.8" x2="1328.2" y2="1007.8"/>
<line x1="1410.1" y1="996.8" x2="1410.1" y2="1007.8"/>
<line x1="1492.1" y1="996.8" x2="1492.1" y2="1007.8"/>
<line x1="1574" y1="996.8" x2="1574" y2="1007.8"/>
<line x1="1655.9" y1="996.8" x2="1655.9" y2="1007.8"/>
<line x1="1737.8" y1="996.8" x2="1737.8" y2="1007.8"/>
<line x1="1819.7" y1="996.8" x2="1819.7" y2="1007.8"/>
<line x1="1901.7" y1="996.8" x2="1901.7" y2="1007.8"/>
<line x1="1983.6" y1="996.8" x2="1983.6" y2="1007.8"/>
<line x1="2065.5" y1="996.8" x2="2065.5" y2="1007.8"/>
</g>
<g clip-path="url(#clipB)">
<g class="dots"><circle cx="1275.9" cy="975.2" r="6.5"/><circle cx="1295" cy="977" r="6.5"/><circle cx="1312.5" cy="958.8" r="6.5"/><circle cx="1324.5" cy="934.3" r="6.5"/><circle cx="1337.5" cy="911.5" r="6.5"/><circle cx="1352" cy="889" r="6.5"/><circle cx="1364" cy="865" r="6.5"/><circle cx="1376.3" cy="841.3" r="6.5"/><circle cx="1389.3" cy="817.8" r="6.5"/><circle cx="1403.8" cy="795" r="6.5"/><circle cx="1417.5" cy="772.5" r="6.5"/><circle cx="1430" cy="748.5" r="6.5"/><circle cx="1440.8" cy="724.3" r="6.5"/><circle cx="1450.8" cy="699.8" r="6.5"/><circle cx="1460" cy="674" r="6.5"/><circle cx="1468.3" cy="648.5" r="6.5"/><circle cx="1475.8" cy="623" r="6.5"/><circle cx="1483.3" cy="597.3" r="6.5"/><circle cx="1490.3" cy="571.3" r="6.5"/><circle cx="1497" cy="545.3" r="6.5"/><circle cx="1503.5" cy="519.4" r="6.5"/><circle cx="1510" cy="493.5" r="6.5"/><circle cx="1516.5" cy="467.6" r="6.5"/><circle cx="1523.2" cy="441.6" r="6.5"/><circle cx="1530" cy="415.6" r="6.5"/><circle cx="1537" cy="389.6" r="6.5"/><circle cx="1544.3" cy="363.7" r="6.5"/><circle cx="1552" cy="338" r="6.5"/><circle cx="1560.8" cy="312.8" r="6.5"/><circle cx="1571.3" cy="288.3" r="6.5"/><circle cx="1586.3" cy="265.8" r="6.5"/><circle cx="1610" cy="261.8" r="6.5"/><circle cx="1627.5" cy="281.3" r="6.5"/><circle cx="1640" cy="305.3" r="6.5"/><circle cx="1649.5" cy="330" r="6.5"/><circle cx="1658" cy="355.5" r="6.5"/><circle cx="1666" cy="381" r="6.5"/><circle cx="1673.8" cy="406.5" r="6.5"/><circle cx="1681.3" cy="432.5" r="6.5"/><circle cx="1688.3" cy="458.3" r="6.5"/><circle cx="1695.2" cy="484.2" r="6.5"/><circle cx="1702" cy="510.3" r="6.5"/><circle cx="1709.3" cy="536.3" r="6.5"/><circle cx="1716.3" cy="562" r="6.5"/><circle cx="1723.3" cy="588" r="6.5"/><circle cx="1730.5" cy="613.5" r="6.5"/><circle cx="1737.8" cy="639.5" r="6.5"/><circle cx="1745.3" cy="665.3" r="6.5"/><circle cx="1753.3" cy="690.8" r="6.5"/><circle cx="1761.3" cy="716.3" r="6.5"/><circle cx="1770" cy="741.3" r="6.5"/><circle cx="1779.3" cy="766.8" r="6.5"/><circle cx="1788.8" cy="791.8" r="6.5"/><circle cx="1799.5" cy="816.3" r="6.5"/><circle cx="1810.8" cy="840.5" r="6.5"/><circle cx="1823.3" cy="864.3" r="6.5"/><circle cx="1837.3" cy="886.8" r="6.5"/><circle cx="1853" cy="908.8" r="6.5"/><circle cx="1870.8" cy="928.8" r="6.5"/><circle cx="1890.8" cy="946.8" r="6.5"/><circle cx="1912.8" cy="961.8" r="6.5"/><circle cx="1937" cy="972.5" r="6.5"/><circle cx="1962.5" cy="980" r="6.5"/><circle cx="1988.8" cy="985.3" r="6.5"/><circle cx="2015.3" cy="989.5" r="6.5"/><circle cx="2041.9" cy="991" r="6.5"/></g>
<path class="curve" stroke="#a8c5ea" d="M1266.8,1004L1266.8,914L1266.8,927L1267.8,932L1270,936L1273.5,938.5L1277.5,940L1281,943.5L1285,950.5L1289,958.5L1294,963C1294.7,962.6 1297.1,961.9 1298.3,960.8C1299.5,959.8 1300.2,958.1 1301.1,956.7C1302,955.3 1302.7,953.8 1303.5,952.3C1304.3,950.8 1305,949.3 1305.7,947.8C1306.5,946.3 1307.2,944.8 1308,943.3C1308.7,941.8 1309.5,940.3 1310.2,938.8C1311,937.3 1311.8,935.8 1312.5,934.3C1313.2,932.8 1314,931.3 1314.7,929.8C1315.4,928.3 1316.2,926.8 1316.9,925.3C1317.6,923.8 1318.3,922.2 1318.9,920.7C1319.6,919.2 1320.3,917.6 1320.9,916.1C1321.6,914.6 1322.2,913 1322.9,911.5C1323.5,909.9 1324.1,908.4 1324.7,906.8C1325.3,905.2 1325.9,903.7 1326.5,902.1C1327.1,900.5 1327.7,899 1328.2,897.4C1328.8,895.8 1329.4,894.2 1329.9,892.7C1330.5,891.1 1331,889.5 1331.6,887.9C1332.1,886.3 1332.7,884.8 1333.2,883.2C1333.8,881.6 1334.3,880 1334.8,878.4C1335.4,876.8 1335.9,875.2 1336.4,873.7C1337,872.1 1337.5,870.5 1338,868.9C1338.5,867.3 1339.1,865.7 1339.6,864.1C1340.1,862.5 1340.6,860.9 1341.1,859.3C1341.6,857.7 1342.2,856.1 1342.7,854.6C1343.2,853 1343.7,851.4 1344.2,849.8C1344.7,848.2 1345.2,846.6 1345.7,845C1346.3,843.4 1346.8,841.8 1347.3,840.2C1347.8,838.6 1348.3,837 1348.8,835.4C1349.3,833.8 1349.8,832.2 1350.4,830.6C1350.9,829.1 1351.4,827.5 1351.9,825.9C1352.4,824.3 1353,822.7 1353.5,821.1C1354,819.5 1354.5,817.9 1355,816.3C1355.6,814.7 1356.1,813.1 1356.6,811.6C1357.1,810 1357.7,808.4 1358.2,806.8C1358.7,805.2 1359.3,803.6 1359.8,802C1360.3,800.4 1360.9,798.8 1361.4,797.3C1361.9,795.7 1362.5,794.1 1363,792.5C1363.5,790.9 1364.1,789.3 1364.6,787.7C1365.1,786.2 1365.7,784.6 1366.2,783C1366.8,781.4 1367.3,779.8 1367.8,778.2C1368.4,776.7 1368.9,775.1 1369.5,773.5C1370,771.9 1370.6,770.3 1371.1,768.7C1371.7,767.2 1372.2,765.6 1372.7,764C1373.3,762.4 1373.8,760.8 1374.4,759.2C1374.9,757.7 1375.5,756.1 1376,754.5C1376.6,752.9 1377.2,751.3 1377.7,749.8C1378.3,748.2 1378.8,746.6 1379.4,745C1379.9,743.4 1380.5,741.9 1381,740.3C1381.6,738.7 1382.2,737.1 1382.7,735.5C1383.3,734 1383.8,732.4 1384.4,730.8C1384.9,729.2 1385.5,727.7 1386.1,726.1C1386.6,724.5 1387.2,722.9 1387.8,721.4C1388.3,719.8 1388.9,718.2 1389.4,716.6C1390,715 1390.6,713.5 1391.1,711.9C1391.7,710.3 1392.3,708.7 1392.8,707.2C1393.4,705.6 1394,704 1394.5,702.4C1395.1,700.9 1395.7,699.3 1396.2,697.7C1396.8,696.1 1397.3,694.6 1397.9,693C1398.5,691.4 1399,689.8 1399.6,688.2C1400.2,686.7 1400.7,685.1 1401.3,683.5C1401.8,681.9 1402.4,680.4 1403,678.8C1403.5,677.2 1404.1,675.6 1404.6,674C1405.2,672.5 1405.8,670.9 1406.3,669.3C1406.9,667.7 1407.4,666.1 1408,664.6C1408.5,663 1409.1,661.4 1409.6,659.8C1410.2,658.2 1410.7,656.7 1411.2,655.1C1411.8,653.5 1412.3,651.9 1412.9,650.3C1413.4,648.7 1413.9,647.2 1414.5,645.6C1415,644 1415.5,642.4 1416.1,640.8C1416.6,639.2 1417.1,637.6 1417.7,636C1418.2,634.4 1418.7,632.9 1419.2,631.3C1419.7,629.7 1420.3,628.1 1420.8,626.5C1421.3,624.9 1421.8,623.3 1422.3,621.7C1422.8,620.1 1423.3,618.5 1423.8,616.9C1424.3,615.3 1424.8,613.7 1425.3,612.1C1425.8,610.5 1426.3,608.9 1426.8,607.3C1427.3,605.7 1427.8,604.1 1428.3,602.5C1428.8,600.9 1429.2,599.3 1429.7,597.7C1430.2,596.1 1430.7,594.5 1431.1,592.9C1431.6,591.3 1432.1,589.7 1432.6,588.1C1433,586.5 1433.5,584.9 1433.9,583.2C1434.4,581.6 1434.9,580 1435.3,578.4C1435.8,576.8 1436.2,575.2 1436.7,573.6C1437.1,572 1437.5,570.3 1438,568.7C1438.4,567.1 1438.9,565.5 1439.3,563.9C1439.7,562.3 1440.2,560.6 1440.6,559C1441,557.4 1441.4,555.8 1441.9,554.2C1442.3,552.5 1442.7,550.9 1443.1,549.3C1443.5,547.7 1444,546.1 1444.4,544.4C1444.8,542.8 1445.2,541.2 1445.6,539.6C1446,538 1446.4,536.3 1446.8,534.7C1447.3,533.1 1447.7,531.5 1448.1,529.8C1448.5,528.2 1448.9,526.6 1449.3,525C1449.7,523.3 1450.1,521.7 1450.6,520.1C1451,518.5 1451.4,516.9 1451.8,515.2C1452.2,513.6 1452.6,512 1453.1,510.4C1453.5,508.8 1453.9,507.1 1454.3,505.5C1454.8,503.9 1455.2,502.3 1455.6,500.7C1456.1,499 1456.5,497.4 1456.9,495.8C1457.4,494.2 1457.8,492.6 1458.3,491C1458.7,489.4 1459.2,487.7 1459.6,486.1C1460.1,484.5 1460.5,482.9 1461,481.3C1461.5,479.7 1461.9,478.1 1462.4,476.5C1462.9,474.9 1463.4,473.3 1463.8,471.7C1464.3,470.1 1464.8,468.5 1465.3,466.9C1465.8,465.3 1466.3,463.7 1466.8,462.1C1467.3,460.5 1467.8,458.9 1468.3,457.3C1468.9,455.7 1469.4,454.1 1469.9,452.5C1470.4,450.9 1471,449.3 1471.5,447.8C1472.1,446.2 1472.7,444.6 1473.2,443C1473.8,441.5 1474.4,439.9 1475,438.3C1475.6,436.8 1476.2,435.2 1476.8,433.6C1477.4,432.1 1478,430.5 1478.7,429C1479.3,427.4 1480,425.9 1480.6,424.4C1481.3,422.8 1482,421.3 1482.7,419.8C1483.5,418.3 1484.2,416.8 1485,415.3C1485.7,413.8 1486.5,412.3 1487.4,410.9C1488.2,409.4 1489,408 1490,406.6C1490.9,405.2 1491.8,403.8 1492.8,402.5C1493.9,401.2 1494.9,399.8 1496.1,398.6C1497.2,397.4 1498.4,396.2 1499.7,395.2C1501,394.1 1502.4,393.1 1503.8,392.3C1505.3,391.5 1506.8,390.8 1508.4,390.2C1510,389.7 1511.6,389.4 1513.3,389.2C1514.9,389 1516.6,389 1518.3,389.2C1520,389.3 1521.6,389.7 1523.2,390.2C1524.8,390.6 1526.4,391.3 1527.9,392C1529.4,392.8 1530.8,393.7 1532.1,394.7C1533.5,395.6 1534.8,396.7 1536,397.8C1537.3,399 1538.5,400.2 1539.6,401.4C1540.7,402.6 1541.8,403.9 1542.8,405.2C1543.9,406.5 1544.9,407.9 1545.8,409.3C1546.8,410.6 1547.7,412 1548.6,413.5C1549.5,414.9 1550.3,416.3 1551.1,417.8C1552,419.2 1552.8,420.7 1553.6,422.2C1554.4,423.6 1555.1,425.1 1555.9,426.6C1556.6,428.1 1557.3,429.6 1558.1,431.2C1558.8,432.7 1559.5,434.2 1560.2,435.7C1560.9,437.2 1561.5,438.8 1562.2,440.3C1562.9,441.8 1563.5,443.4 1564.2,444.9C1564.8,446.5 1565.5,448 1566.1,449.6C1566.7,451.1 1567.4,452.7 1568,454.2C1568.6,455.8 1569.2,457.3 1569.8,458.9C1570.4,460.4 1571.1,462 1571.7,463.6C1572.2,465.1 1572.8,466.7 1573.4,468.3C1574,469.8 1574.6,471.4 1575.2,473C1575.8,474.5 1576.3,476.1 1576.9,477.7C1577.5,479.3 1578.1,480.8 1578.6,482.4C1579.2,484 1579.8,485.6 1580.3,487.1C1580.9,488.7 1581.5,490.3 1582,491.9C1582.6,493.4 1583.2,495 1583.7,496.6C1584.3,498.2 1584.8,499.7 1585.4,501.3C1585.9,502.9 1586.5,504.5 1587.1,506.1C1587.6,507.6 1588.2,509.2 1588.7,510.8C1589.3,512.4 1589.8,514 1590.4,515.5C1590.9,517.1 1591.5,518.7 1592.1,520.3C1592.6,521.9 1593.2,523.4 1593.7,525C1594.3,526.6 1594.8,528.2 1595.4,529.8C1595.9,531.3 1596.5,532.9 1597,534.5C1597.6,536.1 1598.2,537.7 1598.7,539.2C1599.3,540.8 1599.8,542.4 1600.4,544C1600.9,545.6 1601.5,547.1 1602,548.7C1602.6,550.3 1603.1,551.9 1603.7,553.5C1604.2,555 1604.8,556.6 1605.3,558.2C1605.9,559.8 1606.4,561.4 1607,562.9C1607.5,564.5 1608.1,566.1 1608.6,567.7C1609.2,569.3 1609.7,570.9 1610.3,572.4C1610.8,574 1611.4,575.6 1611.9,577.2C1612.4,578.8 1613,580.4 1613.5,581.9C1614.1,583.5 1614.6,585.1 1615.1,586.7C1615.7,588.3 1616.2,589.9 1616.8,591.5C1617.3,593 1617.8,594.6 1618.4,596.2C1618.9,597.8 1619.4,599.4 1620,601C1620.5,602.6 1621,604.1 1621.6,605.7C1622.1,607.3 1622.6,608.9 1623.1,610.5C1623.7,612.1 1624.2,613.7 1624.7,615.3C1625.2,616.9 1625.8,618.4 1626.3,620C1626.8,621.6 1627.3,623.2 1627.8,624.8C1628.4,626.4 1628.9,628 1629.4,629.6C1629.9,631.2 1630.4,632.8 1630.9,634.4C1631.4,636 1632,637.6 1632.5,639.2C1633,640.8 1633.5,642.3 1634,643.9C1634.5,645.5 1635,647.1 1635.5,648.7C1636,650.3 1636.5,651.9 1637,653.5C1637.5,655.1 1638,656.7 1638.5,658.3C1639,659.9 1639.5,661.5 1640,663.1C1640.5,664.7 1641,666.3 1641.5,667.9C1642,669.5 1642.6,671.1 1643.1,672.7C1643.6,674.3 1644.1,675.9 1644.6,677.5C1645.1,679.1 1645.6,680.7 1646.1,682.3C1646.6,683.9 1647.1,685.5 1647.6,687C1648.1,688.6 1648.6,690.2 1649.1,691.8C1649.6,693.4 1650.1,695 1650.7,696.6C1651.2,698.2 1651.7,699.8 1652.2,701.4C1652.7,703 1653.2,704.6 1653.8,706.2C1654.3,707.8 1654.8,709.4 1655.3,710.9C1655.9,712.5 1656.4,714.1 1656.9,715.7C1657.4,717.3 1658,718.9 1658.5,720.5C1659,722.1 1659.6,723.6 1660.1,725.2C1660.7,726.8 1661.2,728.4 1661.8,730C1662.3,731.6 1662.9,733.1 1663.4,734.7C1664,736.3 1664.6,737.9 1665.1,739.4C1665.7,741 1666.3,742.6 1666.8,744.2C1667.4,745.7 1668,747.3 1668.6,748.9C1669.2,750.4 1669.8,752 1670.4,753.6C1671,755.1 1671.6,756.7 1672.2,758.2C1672.8,759.8 1673.4,761.4 1674,762.9C1674.7,764.5 1675.3,766 1675.9,767.6C1676.5,769.1 1677.2,770.7 1677.8,772.2C1678.4,773.8 1679.1,775.3 1679.7,776.9C1680.4,778.4 1681,780 1681.7,781.5C1682.4,783 1683,784.6 1683.7,786.1C1684.3,787.6 1685,789.2 1685.7,790.7C1686.4,792.2 1687,793.8 1687.7,795.3C1688.4,796.8 1689.1,798.4 1689.8,799.9C1690.5,801.4 1691.2,802.9 1691.8,804.5C1692.5,806 1693.2,807.5 1693.9,809C1694.6,810.6 1695.3,812.1 1696,813.6C1696.7,815.1 1697.4,816.6 1698.1,818.1C1698.9,819.7 1699.6,821.2 1700.3,822.7C1701,824.2 1701.7,825.7 1702.4,827.2C1703.1,828.8 1703.8,830.3 1704.5,831.8C1705.2,833.3 1706,834.8 1706.7,836.3C1707.4,837.8 1708.1,839.4 1708.8,840.9C1709.6,842.4 1710.3,843.9 1711,845.4C1711.7,846.9 1712.5,848.4 1713.2,849.9C1713.9,851.4 1714.7,852.9 1715.4,854.4C1716.2,855.9 1716.9,857.4 1717.7,858.9C1718.4,860.4 1719.2,861.9 1719.9,863.4C1720.7,864.9 1721.5,866.4 1722.2,867.9C1723,869.3 1723.8,870.8 1724.6,872.3C1725.4,873.8 1726.2,875.3 1727,876.7C1727.8,878.2 1728.6,879.7 1729.4,881.1C1730.2,882.6 1731,884 1731.9,885.5C1732.7,886.9 1733.5,888.4 1734.4,889.8C1735.3,891.3 1736.1,892.7 1737,894.1C1737.9,895.5 1738.8,897 1739.7,898.4C1740.6,899.8 1741.5,901.2 1742.5,902.5C1743.4,903.9 1744.4,905.3 1745.4,906.6C1746.4,908 1747.4,909.4 1748.4,910.7C1749.4,912 1750.4,913.3 1751.5,914.6C1752.5,915.9 1753.6,917.2 1754.7,918.5C1755.8,919.8 1756.9,921 1758,922.3C1759.1,923.5 1760.3,924.7 1761.4,925.9C1762.6,927.1 1763.8,928.3 1765,929.5C1766.2,930.7 1767.4,931.8 1768.6,932.9C1769.9,934 1771.1,935.1 1772.4,936.2C1773.7,937.3 1775,938.4 1776.3,939.4C1777.6,940.5 1778.9,941.5 1780.3,942.5C1781.6,943.5 1783,944.4 1784.4,945.4C1785.7,946.4 1787.1,947.3 1788.5,948.2C1789.9,949.1 1791.3,950 1792.8,950.9C1794.2,951.8 1795.6,952.7 1797,953.5C1798.5,954.4 1799.9,955.2 1801.4,956.1C1802.9,956.9 1804.3,957.7 1805.8,958.5C1807.3,959.2 1808.8,960 1810.3,960.8C1811.8,961.5 1813.3,962.2 1814.8,963C1816.3,963.7 1817.8,964.4 1819.3,965.1C1820.9,965.7 1822.4,966.4 1824,967C1825.5,967.7 1827.1,968.3 1828.6,968.9C1830.2,969.5 1831.7,970.1 1833.3,970.7C1834.9,971.3 1836.4,971.9 1838,972.4C1839.6,973 1841.2,973.5 1842.8,974C1844.4,974.6 1846,975.1 1847.6,975.6C1849.2,976.1 1850.8,976.6 1852.4,977C1854,977.5 1855.6,978 1857.2,978.4C1858.8,978.9 1860.4,979.3 1862.1,979.7C1863.7,980.1 1865.3,980.5 1866.9,980.9C1868.6,981.3 1870.2,981.7 1871.8,982.1C1873.4,982.5 1875.1,982.8 1876.7,983.2C1878.4,983.5 1880,983.9 1881.6,984.2C1883.3,984.5 1884.9,984.8 1886.6,985.1C1888.2,985.4 1889.9,985.7 1891.5,986C1893.2,986.3 1894.8,986.5 1896.5,986.8C1898.1,987.1 1899.8,987.3 1901.4,987.5C1903.1,987.8 1904.8,988 1906.4,988.2C1908.1,988.4 1909.7,988.6 1911.4,988.8C1913.1,989 1914.7,989.2 1916.4,989.4C1918.1,989.6 1919.7,989.7 1921.4,989.9C1923.1,990 1924.7,990.2 1926.4,990.3C1928.1,990.4 1929.7,990.6 1931.4,990.7C1933.1,990.8 1934.8,990.9 1936.4,991C1938.1,991.1 1939.8,991.2 1941.4,991.3C1943.1,991.4 1944.8,991.5 1946.5,991.5C1948.1,991.6 1949.8,991.7 1951.5,991.7C1953.1,991.8 1954.8,991.8 1956.5,991.8C1958.2,991.9 1959.8,991.9 1961.5,991.9C1963.2,992 1964.9,992 1966.5,992C1968.2,992 1969.9,992 1971.6,992C1973.2,992 1974.9,992 1976.6,992C1978.3,992 1979.9,992 1981.6,992C1983.3,992 1985,992 1986.6,992C1988.3,992 1990,991.9 1991.6,991.9C1993.3,991.9 1995,991.9 1996.7,991.8C1998.3,991.8 2000,991.8 2001.7,991.7C2003.4,991.7 2005,991.7 2006.7,991.7C2008.4,991.6 2010.1,991.6 2011.7,991.6C2013.4,991.5 2015.1,991.5 2016.8,991.5C2018.4,991.4 2020.1,991.4 2021.8,991.4C2023.5,991.3 2025.1,991.3 2026.8,991.3C2028.5,991.3 2030.2,991.2 2031.8,991.2C2033.5,991.2 2035.2,991.2 2036.8,991.2C2038.5,991.1 2040.2,991.1 2041.9,991.1C2043.5,991.1 2045.2,991.1 2046.9,991.1C2048.6,991.1 2050.2,991.1 2051.9,991.1C2053.6,991.1 2055.3,991.2 2056.9,991.2C2058.6,991.2 2060.3,991.2 2062,991.3C2063.6,991.3 2065.3,991.3 2067,991.4C2068.7,991.4 2071.2,991.5 2072,991.5"/>
<path class="curve" stroke="#7ea7de" d="M1266.8,1004L1266.8,910.8L1266.8,926L1267.8,931L1270,935L1273.5,937.5L1277.5,939L1281,942.5L1284.5,949L1288,956.5L1292.5,960.5C1293.1,959.9 1294.9,958.4 1295.9,957C1296.8,955.7 1297.5,954.1 1298.2,952.6C1298.9,951.1 1299.6,949.5 1300.3,948C1301,946.5 1301.6,944.9 1302.3,943.4C1302.9,941.9 1303.5,940.3 1304.2,938.7C1304.8,937.2 1305.4,935.6 1306,934.1C1306.6,932.5 1307.1,930.9 1307.7,929.4C1308.3,927.8 1308.9,926.2 1309.4,924.6C1310,923.1 1310.5,921.5 1311.1,919.9C1311.7,918.3 1312.2,916.8 1312.8,915.2C1313.3,913.6 1313.8,912 1314.4,910.4C1314.9,908.8 1315.5,907.3 1316,905.7C1316.5,904.1 1317.1,902.5 1317.6,900.9C1318.1,899.3 1318.7,897.8 1319.2,896.2C1319.8,894.6 1320.3,893 1320.8,891.4C1321.4,889.8 1321.9,888.2 1322.5,886.7C1323,885.1 1323.5,883.5 1324.1,881.9C1324.6,880.3 1325.2,878.7 1325.7,877.2C1326.2,875.6 1326.8,874 1327.3,872.4C1327.9,870.8 1328.4,869.2 1329,867.7C1329.5,866.1 1330,864.5 1330.6,862.9C1331.1,861.3 1331.7,859.7 1332.2,858.2C1332.7,856.6 1333.3,855 1333.8,853.4C1334.3,851.8 1334.9,850.2 1335.4,848.7C1335.9,847.1 1336.5,845.5 1337,843.9C1337.5,842.3 1338,840.7 1338.6,839.1C1339.1,837.5 1339.6,835.9 1340.1,834.4C1340.6,832.8 1341.2,831.2 1341.7,829.6C1342.2,828 1342.7,826.4 1343.2,824.8C1343.7,823.2 1344.2,821.6 1344.7,820C1345.2,818.4 1345.7,816.8 1346.2,815.2C1346.7,813.6 1347.2,812 1347.7,810.4C1348.2,808.8 1348.7,807.2 1349.2,805.6C1349.7,804 1350.1,802.4 1350.6,800.8C1351.1,799.2 1351.6,797.6 1352,796C1352.5,794.4 1353,792.8 1353.5,791.2C1353.9,789.6 1354.4,788 1354.8,786.4C1355.3,784.8 1355.8,783.2 1356.2,781.5C1356.7,779.9 1357.1,778.3 1357.6,776.7C1358,775.1 1358.5,773.5 1358.9,771.9C1359.4,770.3 1359.8,768.6 1360.2,767C1360.7,765.4 1361.1,763.8 1361.5,762.2C1362,760.6 1362.4,759 1362.8,757.3C1363.3,755.7 1363.7,754.1 1364.1,752.5C1364.6,750.9 1365,749.3 1365.4,747.6C1365.8,746 1366.3,744.4 1366.7,742.8C1367.1,741.2 1367.5,739.5 1367.9,737.9C1368.3,736.3 1368.8,734.7 1369.2,733.1C1369.6,731.4 1370,729.8 1370.4,728.2C1370.8,726.6 1371.2,724.9 1371.6,723.3C1372,721.7 1372.4,720.1 1372.8,718.4C1373.2,716.8 1373.6,715.2 1374,713.6C1374.4,711.9 1374.8,710.3 1375.2,708.7C1375.6,707.1 1376,705.4 1376.4,703.8C1376.8,702.2 1377.2,700.6 1377.6,698.9C1378,697.3 1378.4,695.7 1378.8,694.1C1379.2,692.4 1379.6,690.8 1379.9,689.2C1380.3,687.6 1380.7,685.9 1381.1,684.3C1381.5,682.7 1381.9,681 1382.2,679.4C1382.6,677.8 1383,676.2 1383.4,674.5C1383.8,672.9 1384.1,671.3 1384.5,669.6C1384.9,668 1385.3,666.4 1385.6,664.7C1386,663.1 1386.4,661.5 1386.8,659.8C1387.1,658.2 1387.5,656.6 1387.9,655C1388.3,653.3 1388.6,651.7 1389,650.1C1389.4,648.4 1389.7,646.8 1390.1,645.2C1390.5,643.5 1390.8,641.9 1391.2,640.3C1391.6,638.6 1391.9,637 1392.3,635.4C1392.7,633.7 1393,632.1 1393.4,630.5C1393.8,628.8 1394.1,627.2 1394.5,625.6C1394.8,623.9 1395.2,622.3 1395.6,620.7C1395.9,619 1396.3,617.4 1396.7,615.8C1397,614.1 1397.4,612.5 1397.7,610.9C1398.1,609.2 1398.5,607.6 1398.8,606C1399.2,604.3 1399.5,602.7 1399.9,601.1C1400.3,599.4 1400.6,597.8 1401,596.2C1401.3,594.5 1401.7,592.9 1402.1,591.3C1402.4,589.6 1402.8,588 1403.1,586.4C1403.5,584.7 1403.9,583.1 1404.2,581.5C1404.6,579.8 1404.9,578.2 1405.3,576.6C1405.7,574.9 1406,573.3 1406.4,571.7C1406.8,570 1407.1,568.4 1407.5,566.8C1407.8,565.1 1408.2,563.5 1408.6,561.9C1408.9,560.2 1409.3,558.6 1409.7,557C1410.1,555.3 1410.4,553.7 1410.8,552.1C1411.2,550.4 1411.5,548.8 1411.9,547.2C1412.3,545.5 1412.6,543.9 1413,542.3C1413.4,540.6 1413.8,539 1414.1,537.4C1414.5,535.8 1414.9,534.1 1415.3,532.5C1415.7,530.9 1416,529.2 1416.4,527.6C1416.8,526 1417.2,524.4 1417.6,522.7C1418,521.1 1418.4,519.5 1418.7,517.8C1419.1,516.2 1419.5,514.6 1419.9,513C1420.3,511.3 1420.7,509.7 1421.1,508.1C1421.5,506.5 1421.9,504.8 1422.3,503.2C1422.7,501.6 1423.1,500 1423.5,498.4C1424,496.7 1424.4,495.1 1424.8,493.5C1425.2,491.9 1425.6,490.2 1426,488.6C1426.5,487 1426.9,485.4 1427.3,483.8C1427.8,482.2 1428.2,480.5 1428.6,478.9C1429.1,477.3 1429.5,475.7 1430,474.1C1430.4,472.5 1430.9,470.9 1431.3,469.3C1431.8,467.6 1432.2,466 1432.7,464.4C1433.2,462.8 1433.7,461.2 1434.1,459.6C1434.6,458 1435.1,456.4 1435.6,454.8C1436.1,453.2 1436.6,451.6 1437.1,450C1437.6,448.4 1438.1,446.8 1438.7,445.3C1439.2,443.7 1439.7,442.1 1440.3,440.5C1440.8,438.9 1441.4,437.3 1442,435.8C1442.5,434.2 1443.1,432.6 1443.7,431.1C1444.3,429.5 1444.9,428 1445.6,426.4C1446.2,424.9 1446.8,423.3 1447.5,421.8C1448.2,420.3 1448.9,418.7 1449.6,417.2C1450.3,415.7 1451.1,414.2 1451.8,412.7C1452.6,411.2 1453.4,409.8 1454.3,408.3C1455.1,406.9 1456,405.5 1457,404.1C1457.9,402.7 1458.9,401.4 1460,400.1C1461.1,398.9 1462.3,397.6 1463.5,396.5C1464.8,395.4 1466.1,394.4 1467.6,393.6C1469,392.8 1470.6,392 1472.2,391.7C1473.8,391.3 1475.6,391.2 1477.2,391.5C1478.8,391.7 1480.4,392.3 1481.9,393.1C1483.4,393.8 1484.7,394.9 1486,396C1487.2,397.1 1488.3,398.4 1489.4,399.7C1490.4,401 1491.4,402.4 1492.3,403.8C1493.2,405.2 1494.1,406.6 1494.9,408C1495.8,409.5 1496.6,411 1497.3,412.5C1498.1,413.9 1498.9,415.4 1499.6,416.9C1500.3,418.4 1501,420 1501.7,421.5C1502.4,423 1503.1,424.5 1503.7,426.1C1504.4,427.6 1505.1,429.2 1505.7,430.7C1506.4,432.2 1507,433.8 1507.6,435.3C1508.3,436.9 1508.9,438.4 1509.5,440C1510.1,441.5 1510.7,443.1 1511.3,444.7C1512,446.2 1512.6,447.8 1513.2,449.3C1513.8,450.9 1514.4,452.5 1515,454C1515.6,455.6 1516.2,457.1 1516.8,458.7C1517.4,460.3 1518,461.8 1518.6,463.4C1519.2,465 1519.7,466.5 1520.3,468.1C1520.9,469.7 1521.5,471.2 1522.1,472.8C1522.7,474.3 1523.3,475.9 1523.9,477.5C1524.5,479 1525.1,480.6 1525.6,482.2C1526.2,483.8 1526.8,485.3 1527.4,486.9C1528,488.5 1528.5,490 1529.1,491.6C1529.7,493.2 1530.3,494.7 1530.8,496.3C1531.4,497.9 1532,499.5 1532.5,501C1533.1,502.6 1533.7,504.2 1534.2,505.8C1534.8,507.3 1535.3,508.9 1535.9,510.5C1536.4,512.1 1537,513.7 1537.5,515.2C1538.1,516.8 1538.6,518.4 1539.2,520C1539.7,521.6 1540.3,523.2 1540.8,524.7C1541.3,526.3 1541.9,527.9 1542.4,529.5C1542.9,531.1 1543.5,532.7 1544,534.3C1544.5,535.8 1545.1,537.4 1545.6,539C1546.1,540.6 1546.6,542.2 1547.1,543.8C1547.6,545.4 1548.2,547 1548.7,548.6C1549.2,550.2 1549.7,551.8 1550.2,553.4C1550.7,554.9 1551.2,556.5 1551.7,558.1C1552.2,559.7 1552.7,561.3 1553.2,562.9C1553.7,564.5 1554.2,566.1 1554.6,567.7C1555.1,569.3 1555.6,570.9 1556.1,572.5C1556.6,574.1 1557.1,575.7 1557.5,577.3C1558,578.9 1558.5,580.6 1559,582.2C1559.5,583.8 1559.9,585.4 1560.4,587C1560.9,588.6 1561.4,590.2 1561.8,591.8C1562.3,593.4 1562.8,595 1563.2,596.6C1563.7,598.2 1564.2,599.8 1564.7,601.4C1565.1,603 1565.6,604.6 1566.1,606.2C1566.5,607.8 1567,609.4 1567.5,611.1C1567.9,612.7 1568.4,614.3 1568.9,615.9C1569.3,617.5 1569.8,619.1 1570.3,620.7C1570.7,622.3 1571.2,623.9 1571.6,625.5C1572.1,627.1 1572.6,628.7 1573,630.3C1573.5,631.9 1574,633.6 1574.4,635.2C1574.9,636.8 1575.4,638.4 1575.8,640C1576.3,641.6 1576.8,643.2 1577.2,644.8C1577.7,646.4 1578.2,648 1578.6,649.6C1579.1,651.2 1579.6,652.8 1580,654.4C1580.5,656 1581,657.7 1581.4,659.3C1581.9,660.9 1582.4,662.5 1582.9,664.1C1583.3,665.7 1583.8,667.3 1584.3,668.9C1584.8,670.5 1585.2,672.1 1585.7,673.7C1586.2,675.3 1586.7,676.9 1587.2,678.5C1587.6,680.1 1588.1,681.7 1588.6,683.3C1589.1,684.9 1589.6,686.5 1590.1,688.1C1590.6,689.7 1591.1,691.3 1591.6,692.9C1592.1,694.5 1592.6,696.1 1593.1,697.7C1593.6,699.3 1594.1,700.9 1594.6,702.5C1595.1,704.1 1595.6,705.7 1596.1,707.3C1596.6,708.9 1597.1,710.5 1597.6,712C1598.1,713.6 1598.7,715.2 1599.2,716.8C1599.7,718.4 1600.2,720 1600.8,721.6C1601.3,723.2 1601.8,724.8 1602.3,726.3C1602.9,727.9 1603.4,729.5 1604,731.1C1604.5,732.7 1605,734.3 1605.6,735.8C1606.1,737.4 1606.7,739 1607.2,740.6C1607.8,742.2 1608.3,743.7 1608.9,745.3C1609.4,746.9 1610,748.5 1610.6,750.1C1611.1,751.6 1611.7,753.2 1612.3,754.8C1612.8,756.3 1613.4,757.9 1614,759.5C1614.6,761.1 1615.2,762.6 1615.8,764.2C1616.3,765.8 1616.9,767.3 1617.5,768.9C1618.1,770.5 1618.7,772 1619.3,773.6C1619.9,775.1 1620.5,776.7 1621.2,778.2C1621.8,779.8 1622.4,781.4 1623,782.9C1623.6,784.5 1624.3,786 1624.9,787.6C1625.5,789.1 1626.2,790.7 1626.8,792.2C1627.5,793.7 1628.1,795.3 1628.8,796.8C1629.4,798.4 1630.1,799.9 1630.8,801.4C1631.4,803 1632.1,804.5 1632.8,806C1633.4,807.6 1634.1,809.1 1634.8,810.6C1635.5,812.1 1636.2,813.7 1636.9,815.2C1637.6,816.7 1638.3,818.2 1639,819.7C1639.7,821.2 1640.5,822.8 1641.2,824.3C1641.9,825.8 1642.6,827.3 1643.4,828.8C1644.1,830.3 1644.8,831.8 1645.6,833.3C1646.3,834.8 1647,836.3 1647.8,837.8C1648.5,839.3 1649.3,840.8 1650,842.3C1650.8,843.8 1651.5,845.3 1652.3,846.8C1653,848.3 1653.8,849.8 1654.6,851.2C1655.3,852.7 1656.1,854.2 1656.8,855.7C1657.6,857.2 1658.4,858.7 1659.1,860.2C1659.9,861.7 1660.7,863.2 1661.4,864.7C1662.2,866.1 1662.9,867.6 1663.7,869.1C1664.5,870.6 1665.2,872.1 1666,873.6C1666.7,875.1 1667.5,876.6 1668.3,878.1C1669,879.6 1669.8,881.1 1670.5,882.5C1671.3,884 1672,885.5 1672.8,887C1673.6,888.5 1674.3,890 1675.1,891.5C1675.9,893 1676.6,894.5 1677.4,895.9C1678.2,897.4 1678.9,898.9 1679.7,900.4C1680.5,901.9 1681.3,903.3 1682.1,904.8C1682.9,906.3 1683.7,907.8 1684.5,909.2C1685.3,910.7 1686.1,912.2 1686.9,913.6C1687.7,915.1 1688.6,916.5 1689.4,918C1690.2,919.4 1691.1,920.9 1692,922.3C1692.8,923.7 1693.7,925.1 1694.6,926.6C1695.5,928 1696.4,929.4 1697.4,930.7C1698.3,932.1 1699.3,933.5 1700.3,934.9C1701.2,936.2 1702.2,937.5 1703.3,938.9C1704.3,940.2 1705.4,941.5 1706.5,942.7C1707.6,944 1708.7,945.2 1709.8,946.5C1711,947.7 1712.2,948.9 1713.4,950C1714.6,951.2 1715.8,952.3 1717.1,953.4C1718.4,954.5 1719.7,955.5 1721,956.6C1722.3,957.6 1723.7,958.6 1725,959.5C1726.4,960.5 1727.8,961.4 1729.2,962.3C1730.7,963.2 1732.1,964 1733.5,964.8C1735,965.7 1736.5,966.5 1738,967.2C1739.4,968 1740.9,968.8 1742.4,969.5C1743.9,970.3 1745.4,971 1746.9,971.7C1748.5,972.4 1750,973.1 1751.5,973.8C1753.1,974.4 1754.6,975.1 1756.1,975.7C1757.7,976.4 1759.2,977 1760.8,977.6C1762.4,978.2 1763.9,978.7 1765.5,979.3C1767.1,979.8 1768.7,980.4 1770.3,980.9C1771.9,981.4 1773.5,981.9 1775.1,982.4C1776.7,982.8 1778.3,983.3 1779.9,983.7C1781.5,984.1 1783.2,984.5 1784.8,984.9C1786.4,985.3 1788.1,985.6 1789.7,985.9C1791.3,986.3 1793,986.6 1794.6,986.9C1796.3,987.1 1797.9,987.4 1799.6,987.6C1801.3,987.9 1802.9,988.1 1804.6,988.3C1806.2,988.5 1807.9,988.7 1809.6,988.9C1811.2,989 1812.9,989.2 1814.6,989.3C1816.2,989.4 1817.9,989.5 1819.6,989.7C1821.2,989.8 1822.9,989.8 1824.6,989.9C1826.2,990 1827.9,990.1 1829.6,990.1C1831.3,990.2 1832.9,990.2 1834.6,990.3C1836.3,990.3 1838,990.4 1839.6,990.4C1841.3,990.4 1843,990.5 1844.6,990.5C1846.3,990.5 1848,990.5 1849.7,990.5C1851.3,990.6 1853,990.6 1854.7,990.6C1856.4,990.6 1858,990.6 1859.7,990.7C1861.4,990.7 1863.1,990.7 1864.7,990.7C1866.4,990.7 1868.1,990.8 1869.7,990.8C1871.4,990.8 1873.1,990.8 1874.8,990.8C1876.4,990.8 1878.1,990.8 1879.8,990.9C1881.5,990.9 1883.1,990.9 1884.8,990.9C1886.5,990.9 1888.1,990.9 1889.8,990.9C1891.5,990.9 1893.2,990.9 1894.8,991C1896.5,991 1898.2,991 1899.9,991C1901.5,991 1903.2,991 1904.9,991C1906.6,991 1908.2,991 1909.9,991C1911.6,991 1913.2,991 1914.9,991C1916.6,991 1918.3,991 1919.9,991C1921.6,991 1923.3,991 1925,991C1926.6,991 1928.3,991 1930,991C1931.6,991 1933.3,991 1935,991C1936.7,991 1938.3,991 1940,991C1941.7,991 1943.4,991 1945,991C1946.7,990.9 1948.4,990.9 1950.1,990.9C1951.7,990.9 1953.4,990.9 1955.1,990.9C1956.7,990.9 1958.4,990.9 1960.1,990.8C1961.8,990.8 1963.4,990.8 1965.1,990.8C1966.8,990.8 1968.5,990.7 1970.1,990.7C1971.8,990.7 1973.5,990.7 1975.1,990.7C1976.8,990.6 1978.5,990.6 1980.2,990.6C1981.8,990.6 1983.5,990.6 1985.2,990.5C1986.9,990.5 1988.5,990.5 1990.2,990.5C1991.9,990.4 1993.5,990.4 1995.2,990.4C1996.9,990.3 1998.6,990.3 2000.2,990.3C2001.9,990.3 2003.6,990.2 2005.3,990.2C2006.9,990.2 2008.6,990.1 2010.3,990.1C2012,990.1 2013.6,990.1 2015.3,990C2017,990 2018.6,990 2020.3,989.9C2022,989.9 2023.7,989.9 2025.3,989.8C2027,989.8 2028.7,989.8 2030.4,989.8C2032,989.7 2033.7,989.7 2035.4,989.7C2037,989.6 2038.7,989.6 2040.4,989.6C2042.1,989.5 2043.7,989.5 2045.4,989.5C2047.1,989.4 2048.8,989.4 2050.4,989.4C2052.1,989.4 2053.8,989.3 2055.4,989.3C2057.1,989.3 2058.8,989.2 2060.5,989.2C2062.1,989.2 2063.8,989.1 2065.5,989.1C2067.2,989.1 2069.7,989 2070.5,989"/>
<path class="curve" stroke="#06529f" d="M1266.8,1004L1266.8,924.2L1267.5,929L1269.5,933.5L1273,936.3L1277,937.8L1280.5,941L1284,948L1287,955L1289.8,958.8C1290.4,958.4 1292.5,957.4 1293.5,956.2C1294.5,955 1295,953.2 1295.8,951.7C1296.5,950.2 1297.1,948.7 1297.9,947.2C1298.6,945.7 1299.3,944.2 1300,942.7C1300.7,941.1 1301.5,939.6 1302.2,938.1C1302.9,936.6 1303.5,935.1 1304.2,933.5C1304.8,932 1305.4,930.4 1306,928.8C1306.5,927.3 1307.1,925.7 1307.6,924.1C1308.1,922.5 1308.6,920.9 1309.1,919.3C1309.5,917.7 1310,916.1 1310.4,914.5C1310.9,912.9 1311.3,911.3 1311.8,909.6C1312.2,908 1312.6,906.4 1313,904.8C1313.5,903.2 1313.9,901.5 1314.3,899.9C1314.7,898.3 1315.1,896.7 1315.5,895.1C1315.9,893.4 1316.3,891.8 1316.7,890.2C1317.1,888.6 1317.5,886.9 1317.9,885.3C1318.3,883.7 1318.7,882.1 1319.1,880.4C1319.5,878.8 1319.9,877.2 1320.3,875.6C1320.7,874 1321.1,872.3 1321.5,870.7C1321.9,869.1 1322.3,867.5 1322.8,865.8C1323.2,864.2 1323.6,862.6 1324,861C1324.4,859.4 1324.9,857.8 1325.3,856.1C1325.7,854.5 1326.1,852.9 1326.6,851.3C1327,849.7 1327.4,848.1 1327.8,846.4C1328.3,844.8 1328.7,843.2 1329.1,841.6C1329.6,840 1330,838.4 1330.4,836.7C1330.9,835.1 1331.3,833.5 1331.8,831.9C1332.2,830.3 1332.6,828.7 1333.1,827.1C1333.5,825.4 1333.9,823.8 1334.4,822.2C1334.8,820.6 1335.3,819 1335.7,817.4C1336.1,815.8 1336.6,814.2 1337,812.5C1337.5,810.9 1337.9,809.3 1338.3,807.7C1338.8,806.1 1339.2,804.5 1339.6,802.9C1340.1,801.2 1340.5,799.6 1340.9,798C1341.4,796.4 1341.8,794.8 1342.2,793.2C1342.7,791.5 1343.1,789.9 1343.5,788.3C1343.9,786.7 1344.4,785.1 1344.8,783.5C1345.2,781.8 1345.6,780.2 1346.1,778.6C1346.5,777 1346.9,775.4 1347.3,773.7C1347.7,772.1 1348.1,770.5 1348.5,768.9C1348.9,767.3 1349.3,765.6 1349.7,764C1350.2,762.4 1350.6,760.8 1350.9,759.1C1351.3,757.5 1351.7,755.9 1352.1,754.3C1352.5,752.6 1352.9,751 1353.3,749.4C1353.7,747.8 1354.1,746.1 1354.5,744.5C1354.8,742.9 1355.2,741.3 1355.6,739.6C1356,738 1356.4,736.4 1356.7,734.7C1357.1,733.1 1357.5,731.5 1357.9,729.8C1358.2,728.2 1358.6,726.6 1359,725C1359.3,723.3 1359.7,721.7 1360.1,720.1C1360.4,718.4 1360.8,716.8 1361.2,715.2C1361.5,713.5 1361.9,711.9 1362.2,710.3C1362.6,708.6 1363,707 1363.3,705.4C1363.7,703.7 1364,702.1 1364.4,700.5C1364.7,698.8 1365.1,697.2 1365.4,695.6C1365.8,693.9 1366.1,692.3 1366.5,690.7C1366.8,689 1367.2,687.4 1367.5,685.7C1367.9,684.1 1368.2,682.5 1368.6,680.8C1368.9,679.2 1369.3,677.6 1369.6,675.9C1370,674.3 1370.3,672.7 1370.6,671C1371,669.4 1371.3,667.7 1371.7,666.1C1372,664.5 1372.3,662.8 1372.7,661.2C1373,659.6 1373.3,657.9 1373.7,656.3C1374,654.6 1374.4,653 1374.7,651.4C1375,649.7 1375.4,648.1 1375.7,646.5C1376,644.8 1376.4,643.2 1376.7,641.5C1377,639.9 1377.4,638.3 1377.7,636.6C1378,635 1378.4,633.3 1378.7,631.7C1379,630.1 1379.3,628.4 1379.7,626.8C1380,625.1 1380.3,623.5 1380.7,621.9C1381,620.2 1381.3,618.6 1381.6,616.9C1382,615.3 1382.3,613.7 1382.6,612C1383,610.4 1383.3,608.7 1383.6,607.1C1383.9,605.5 1384.3,603.8 1384.6,602.2C1384.9,600.5 1385.2,598.9 1385.6,597.3C1385.9,595.6 1386.2,594 1386.5,592.3C1386.9,590.7 1387.2,589.1 1387.5,587.4C1387.8,585.8 1388.2,584.1 1388.5,582.5C1388.8,580.9 1389.1,579.2 1389.5,577.6C1389.8,575.9 1390.1,574.3 1390.4,572.7C1390.7,571 1391.1,569.4 1391.4,567.7C1391.7,566.1 1392,564.5 1392.4,562.8C1392.7,561.2 1393,559.5 1393.3,557.9C1393.7,556.3 1394,554.6 1394.3,553C1394.6,551.3 1395,549.7 1395.3,548C1395.6,546.4 1395.9,544.8 1396.3,543.1C1396.6,541.5 1396.9,539.8 1397.3,538.2C1397.6,536.6 1397.9,534.9 1398.2,533.3C1398.6,531.7 1398.9,530 1399.2,528.4C1399.6,526.7 1399.9,525.1 1400.2,523.5C1400.6,521.8 1400.9,520.2 1401.2,518.5C1401.6,516.9 1401.9,515.3 1402.3,513.6C1402.6,512 1402.9,510.4 1403.3,508.7C1403.6,507.1 1404,505.4 1404.3,503.8C1404.7,502.2 1405,500.5 1405.4,498.9C1405.7,497.3 1406.1,495.6 1406.4,494C1406.8,492.4 1407.2,490.7 1407.5,489.1C1407.9,487.5 1408.2,485.8 1408.6,484.2C1409,482.6 1409.4,480.9 1409.7,479.3C1410.1,477.7 1410.5,476.1 1410.9,474.4C1411.2,472.8 1411.6,471.2 1412,469.6C1412.4,467.9 1412.8,466.3 1413.2,464.7C1413.6,463.1 1414,461.4 1414.4,459.8C1414.8,458.2 1415.3,456.6 1415.7,455C1416.1,453.3 1416.5,451.7 1417,450.1C1417.4,448.5 1417.9,446.9 1418.3,445.3C1418.8,443.7 1419.2,442.1 1419.7,440.5C1420.2,438.8 1420.7,437.2 1421.2,435.7C1421.7,434.1 1422.2,432.5 1422.7,430.9C1423.2,429.3 1423.8,427.7 1424.3,426.1C1424.9,424.5 1425.4,423 1426,421.4C1426.6,419.8 1427.2,418.3 1427.8,416.7C1428.4,415.2 1429.1,413.6 1429.7,412.1C1430.4,410.6 1431.1,409 1431.8,407.5C1432.5,406 1433.2,404.5 1434,403C1434.7,401.5 1435.5,400 1436.3,398.6C1437.1,397.1 1438,395.6 1438.8,394.2C1439.7,392.8 1440.6,391.4 1441.5,390C1442.5,388.6 1443.5,387.2 1444.5,386C1445.6,384.7 1446.7,383.4 1448,382.3C1449.3,381.3 1450.8,380.2 1452.3,379.9C1453.9,379.6 1455.7,380 1457.2,380.7C1458.6,381.3 1459.8,382.7 1461,383.9C1462.1,385.1 1463.1,386.5 1464.1,387.8C1465,389.2 1465.9,390.6 1466.8,392C1467.7,393.5 1468.5,394.9 1469.3,396.4C1470.1,397.8 1470.9,399.3 1471.7,400.8C1472.5,402.3 1473.2,403.8 1474,405.3C1474.7,406.8 1475.4,408.3 1476.2,409.8C1476.9,411.3 1477.6,412.8 1478.3,414.3C1479,415.8 1479.7,417.4 1480.3,418.9C1481,420.4 1481.6,422 1482.3,423.5C1482.9,425.1 1483.6,426.6 1484.2,428.2C1484.8,429.7 1485.4,431.3 1486,432.8C1486.6,434.4 1487.2,436 1487.8,437.5C1488.3,439.1 1488.9,440.7 1489.5,442.3C1490,443.8 1490.6,445.4 1491.1,447C1491.7,448.6 1492.2,450.2 1492.7,451.7C1493.3,453.3 1493.8,454.9 1494.3,456.5C1494.8,458.1 1495.3,459.7 1495.8,461.3C1496.3,462.9 1496.8,464.5 1497.3,466.1C1497.8,467.7 1498.3,469.3 1498.8,470.9C1499.2,472.5 1499.7,474.1 1500.2,475.7C1500.7,477.3 1501.1,478.9 1501.6,480.5C1502,482.1 1502.5,483.7 1503,485.3C1503.4,486.9 1503.9,488.6 1504.3,490.2C1504.7,491.8 1505.2,493.4 1505.6,495C1506.1,496.6 1506.5,498.2 1506.9,499.9C1507.4,501.5 1507.8,503.1 1508.2,504.7C1508.6,506.3 1509.1,507.9 1509.5,509.6C1509.9,511.2 1510.3,512.8 1510.7,514.4C1511.1,516 1511.6,517.7 1512,519.3C1512.4,520.9 1512.8,522.5 1513.2,524.1C1513.6,525.8 1514,527.4 1514.4,529C1514.8,530.6 1515.2,532.3 1515.6,533.9C1516,535.5 1516.4,537.1 1516.8,538.8C1517.2,540.4 1517.5,542 1517.9,543.6C1518.3,545.3 1518.7,546.9 1519.1,548.5C1519.5,550.1 1519.9,551.8 1520.2,553.4C1520.6,555 1521,556.7 1521.4,558.3C1521.8,559.9 1522.1,561.5 1522.5,563.2C1522.9,564.8 1523.3,566.4 1523.7,568.1C1524,569.7 1524.4,571.3 1524.8,573C1525.2,574.6 1525.5,576.2 1525.9,577.8C1526.3,579.5 1526.6,581.1 1527,582.7C1527.4,584.4 1527.8,586 1528.1,587.6C1528.5,589.3 1528.9,590.9 1529.2,592.5C1529.6,594.1 1530,595.8 1530.4,597.4C1530.7,599 1531.1,600.7 1531.5,602.3C1531.8,603.9 1532.2,605.6 1532.6,607.2C1532.9,608.8 1533.3,610.5 1533.7,612.1C1534.1,613.7 1534.4,615.3 1534.8,617C1535.2,618.6 1535.5,620.2 1535.9,621.9C1536.3,623.5 1536.7,625.1 1537,626.8C1537.4,628.4 1537.8,630 1538.1,631.7C1538.5,633.3 1538.9,634.9 1539.3,636.5C1539.6,638.2 1540,639.8 1540.4,641.4C1540.8,643.1 1541.1,644.7 1541.5,646.3C1541.9,647.9 1542.3,649.6 1542.7,651.2C1543,652.8 1543.4,654.5 1543.8,656.1C1544.2,657.7 1544.6,659.3 1545,661C1545.4,662.6 1545.7,664.2 1546.1,665.8C1546.5,667.5 1546.9,669.1 1547.3,670.7C1547.7,672.4 1548.1,674 1548.5,675.6C1548.9,677.2 1549.3,678.8 1549.7,680.5C1550.1,682.1 1550.5,683.7 1550.9,685.3C1551.3,687 1551.7,688.6 1552.1,690.2C1552.5,691.8 1552.9,693.4 1553.4,695.1C1553.8,696.7 1554.2,698.3 1554.6,699.9C1555,701.5 1555.5,703.2 1555.9,704.8C1556.3,706.4 1556.7,708 1557.2,709.6C1557.6,711.2 1558,712.9 1558.5,714.5C1558.9,716.1 1559.3,717.7 1559.8,719.3C1560.2,720.9 1560.7,722.5 1561.1,724.2C1561.6,725.8 1562,727.4 1562.5,729C1562.9,730.6 1563.4,732.2 1563.8,733.8C1564.3,735.4 1564.7,737 1565.2,738.6C1565.7,740.2 1566.1,741.8 1566.6,743.5C1567.1,745.1 1567.5,746.7 1568,748.3C1568.5,749.9 1569,751.5 1569.4,753.1C1569.9,754.7 1570.4,756.3 1570.9,757.9C1571.4,759.5 1571.8,761.1 1572.3,762.7C1572.8,764.3 1573.3,765.9 1573.8,767.5C1574.3,769.1 1574.8,770.7 1575.3,772.3C1575.8,773.9 1576.3,775.5 1576.8,777C1577.3,778.6 1577.8,780.2 1578.3,781.8C1578.9,783.4 1579.4,785 1579.9,786.6C1580.4,788.2 1580.9,789.8 1581.5,791.4C1582,793 1582.5,794.5 1583,796.1C1583.6,797.7 1584.1,799.3 1584.6,800.9C1585.2,802.5 1585.7,804.1 1586.2,805.6C1586.8,807.2 1587.3,808.8 1587.9,810.4C1588.4,812 1588.9,813.5 1589.5,815.1C1590,816.7 1590.6,818.3 1591.1,819.9C1591.7,821.4 1592.3,823 1592.8,824.6C1593.4,826.2 1593.9,827.7 1594.5,829.3C1595.1,830.9 1595.6,832.5 1596.2,834C1596.8,835.6 1597.3,837.2 1597.9,838.8C1598.5,840.3 1599.1,841.9 1599.7,843.5C1600.2,845 1600.8,846.6 1601.4,848.2C1602,849.7 1602.6,851.3 1603.2,852.8C1603.8,854.4 1604.4,856 1605,857.5C1605.6,859.1 1606.2,860.6 1606.9,862.2C1607.5,863.7 1608.1,865.3 1608.7,866.8C1609.4,868.4 1610,869.9 1610.6,871.5C1611.3,873 1611.9,874.6 1612.6,876.1C1613.2,877.6 1613.9,879.2 1614.6,880.7C1615.2,882.3 1615.9,883.8 1616.6,885.3C1617.3,886.8 1618,888.4 1618.7,889.9C1619.4,891.4 1620.1,892.9 1620.8,894.4C1621.5,895.9 1622.2,897.4 1623,898.9C1623.7,900.4 1624.5,901.9 1625.2,903.4C1626,904.9 1626.8,906.4 1627.6,907.9C1628.3,909.3 1629.1,910.8 1630,912.3C1630.8,913.7 1631.6,915.2 1632.5,916.6C1633.3,918 1634.2,919.5 1635.1,920.9C1636,922.3 1636.9,923.7 1637.8,925.1C1638.8,926.5 1639.7,927.9 1640.7,929.2C1641.6,930.6 1642.6,931.9 1643.6,933.3C1644.7,934.6 1645.7,935.9 1646.7,937.2C1647.8,938.5 1648.9,939.8 1649.9,941.1C1651,942.3 1652.2,943.6 1653.3,944.8C1654.4,946 1655.6,947.2 1656.7,948.4C1657.9,949.6 1659.1,950.8 1660.3,952C1661.5,953.1 1662.8,954.2 1664,955.4C1665.2,956.5 1666.5,957.6 1667.8,958.7C1669.1,959.8 1670.3,960.8 1671.6,961.9C1672.9,962.9 1674.3,963.9 1675.6,964.9C1676.9,966 1678.3,966.9 1679.7,967.9C1681,968.8 1682.4,969.8 1683.8,970.7C1685.2,971.6 1686.7,972.5 1688.1,973.3C1689.6,974.1 1691,975 1692.5,975.7C1694,976.5 1695.5,977.2 1697,977.9C1698.5,978.6 1700.1,979.3 1701.6,979.9C1703.2,980.5 1704.8,981.1 1706.3,981.6C1707.9,982.1 1709.5,982.6 1711.1,983.1C1712.8,983.5 1714.4,983.9 1716,984.3C1717.6,984.6 1719.3,985 1720.9,985.3C1722.6,985.6 1724.2,985.8 1725.9,986.1C1727.5,986.3 1729.2,986.5 1730.8,986.7C1732.5,986.9 1734.2,987.1 1735.8,987.3C1737.5,987.5 1739.2,987.6 1740.8,987.8C1742.5,987.9 1744.2,988.1 1745.8,988.2C1747.5,988.3 1749.2,988.5 1750.8,988.6C1752.5,988.7 1754.2,988.8 1755.8,989C1757.5,989.1 1759.2,989.2 1760.8,989.3C1762.5,989.4 1764.2,989.5 1765.8,989.6C1767.5,989.7 1769.2,989.7 1770.9,989.8C1772.5,989.9 1774.2,990 1775.9,990C1777.5,990.1 1779.2,990.2 1780.9,990.2C1782.6,990.3 1784.2,990.3 1785.9,990.4C1787.6,990.4 1789.2,990.5 1790.9,990.5C1792.6,990.5 1794.3,990.6 1795.9,990.6C1797.6,990.6 1799.3,990.7 1800.9,990.7C1802.6,990.7 1804.3,990.7 1806,990.7C1807.6,990.7 1809.3,990.8 1811,990.8C1812.6,990.8 1814.3,990.8 1816,990.8C1817.7,990.8 1819.3,990.8 1821,990.8C1822.7,990.8 1824.4,990.8 1826,990.8C1827.7,990.8 1829.4,990.8 1831,990.8C1832.7,990.8 1834.4,990.8 1836.1,990.8C1837.7,990.8 1839.4,990.8 1841.1,990.7C1842.7,990.7 1844.4,990.7 1846.1,990.7C1847.8,990.7 1849.4,990.7 1851.1,990.7C1852.8,990.7 1854.5,990.7 1856.1,990.7C1857.8,990.7 1859.5,990.7 1861.1,990.7C1862.8,990.7 1864.5,990.7 1866.2,990.7C1867.8,990.7 1869.5,990.7 1871.2,990.7C1872.8,990.7 1874.5,990.7 1876.2,990.8C1877.9,990.8 1879.5,990.8 1881.2,990.8C1882.9,990.8 1884.6,990.8 1886.2,990.8C1887.9,990.8 1889.6,990.8 1891.2,990.8C1892.9,990.8 1894.6,990.8 1896.3,990.8C1897.9,990.8 1899.6,990.8 1901.3,990.8C1902.9,990.8 1904.6,990.8 1906.3,990.8C1908,990.8 1909.6,990.8 1911.3,990.9C1913,990.9 1914.7,990.9 1916.3,990.9C1918,990.9 1919.7,990.9 1921.3,990.9C1923,990.9 1924.7,990.9 1926.4,990.8C1928,990.8 1929.7,990.8 1931.4,990.8C1933.1,990.8 1934.7,990.8 1936.4,990.8C1938.1,990.8 1939.7,990.8 1941.4,990.8C1943.1,990.8 1944.8,990.8 1946.4,990.7C1948.1,990.7 1949.8,990.7 1951.4,990.7C1953.1,990.7 1954.8,990.7 1956.5,990.6C1958.1,990.6 1959.8,990.6 1961.5,990.6C1963.1,990.5 1964.8,990.5 1966.5,990.5C1968.2,990.5 1969.8,990.4 1971.5,990.4C1973.2,990.4 1974.9,990.3 1976.5,990.3C1978.2,990.3 1979.9,990.2 1981.5,990.2C1983.2,990.2 1984.9,990.1 1986.6,990.1C1988.2,990 1989.9,990 1991.6,990C1993.2,989.9 1994.9,989.9 1996.6,989.8C1998.3,989.8 1999.9,989.7 2001.6,989.7C2003.3,989.7 2004.9,989.6 2006.6,989.6C2008.3,989.5 2010,989.5 2011.6,989.4C2013.3,989.4 2015,989.3 2016.6,989.3C2018.3,989.2 2020,989.2 2021.7,989.1C2023.3,989.1 2025,989 2026.7,989C2028.3,988.9 2030,988.9 2031.7,988.8C2033.4,988.8 2035,988.7 2036.7,988.6C2038.4,988.6 2040,988.5 2041.7,988.5C2043.4,988.4 2045.1,988.4 2046.7,988.3C2048.4,988.3 2050.1,988.2 2051.7,988.2C2053.4,988.1 2055.1,988 2056.8,988C2058.4,987.9 2060.1,987.9 2061.8,987.8C2063.4,987.8 2065.1,987.7 2066.8,987.7C2068.5,987.6 2071,987.5 2071.8,987.5"/>
</g>
<text class="tick" x="2106" y="1012.1">0.0</text>
<text class="tick" x="2106" y="882.1">1.0</text>
<text class="tick" x="2106" y="752.1">2.0</text>
<text class="tick" x="2106" y="622.1">3.0</text>
<text class="tick" x="2106" y="492.1">4.0</text>
<text class="tick" x="2106" y="362.1">5.0</text>
<text class="tick" x="2106" y="232.1">6.0</text>
<text class="tick" x="1246.3" y="1070.6" text-anchor="middle">0</text>
<text class="tick" x="1410.1" y="1070.6" text-anchor="middle">2</text>
<text class="tick" x="1574" y="1070.6" text-anchor="middle">4</text>
<text class="tick" x="1737.8" y="1070.6" text-anchor="middle">6</text>
<text class="tick" x="1901.7" y="1070.6" text-anchor="middle">8</text>
<text class="tick" x="2065.5" y="1070.6" text-anchor="middle">10</text>
<text class="atitle" x="1657" y="1142" text-anchor="middle">Particle diameter (µm)</text>
<text class="atitle" transform="translate(2224 603.5) rotate(-90)" text-anchor="middle">Mass Frequency (%)</text>
<text class="tag" x="1263" y="107.6">b)</text>
<text class="title" x="1737.2" y="102" text-anchor="middle">Mass Frequency vs. Diameter</text>
</g>
</g>
</svg>
</body>
</html>
